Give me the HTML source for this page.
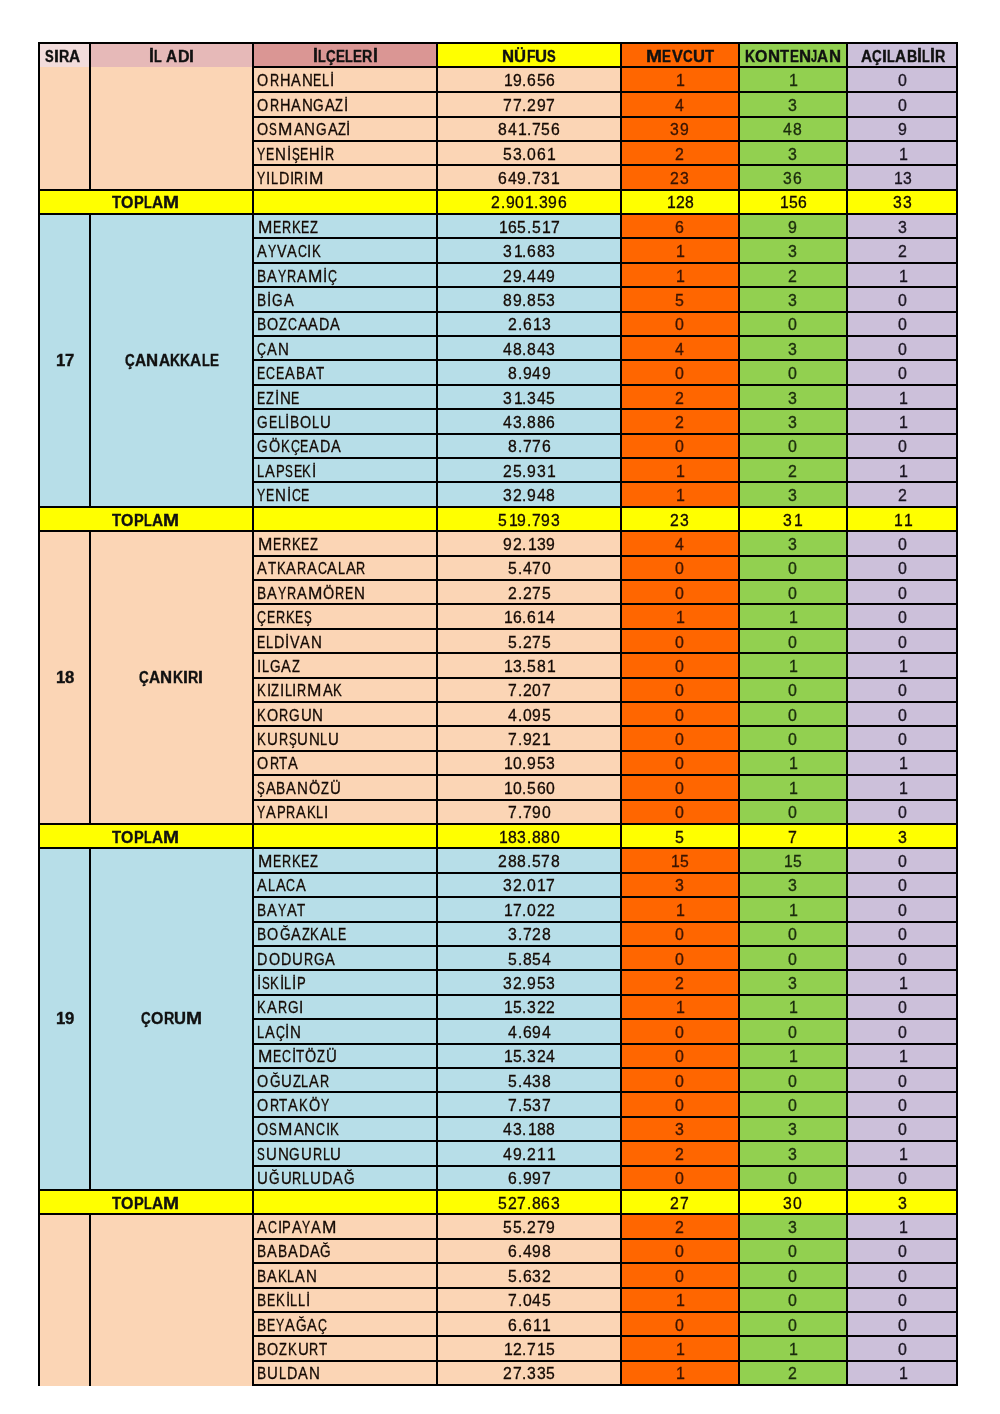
<!DOCTYPE html>
<html><head><meta charset="utf-8"><style>html,body{margin:0;padding:0;background:#fff}
body{width:1000px;height:1414px;position:relative;overflow:hidden}
i{position:absolute;display:block}
#ln i{background:#000}
p{position:absolute;margin:0;height:0;width:0;line-height:0;white-space:nowrap;will-change:transform;font-family:"Liberation Sans",sans-serif;font-size:16px;-webkit-text-stroke:0.3px currentColor}
p.b{font-weight:bold;font-size:16px;-webkit-text-stroke:0.35px currentColor}
s{position:absolute;left:0;top:0;text-decoration:none;transform-origin:0 0}
</style></head>
<body><div id="bg">
<i style="left:39px;top:43px;width:51px;height:24px;background:#F2DCDB"></i>
<i style="left:90px;top:43px;width:163px;height:24px;background:#E6B9B8"></i>
<i style="left:253px;top:43px;width:184px;height:24px;background:#DA9694"></i>
<i style="left:437px;top:43px;width:184px;height:24px;background:#FFFF00"></i>
<i style="left:621px;top:43px;width:118px;height:24px;background:#FF6600"></i>
<i style="left:739px;top:43px;width:108px;height:24px;background:#92D050"></i>
<i style="left:847px;top:43px;width:110px;height:24px;background:#CCC0DA"></i>
<i style="left:253px;top:67px;width:368px;height:25px;background:#FBD5B5"></i>
<i style="left:621px;top:67px;width:118px;height:25px;background:#FF6600"></i>
<i style="left:739px;top:67px;width:108px;height:25px;background:#92D050"></i>
<i style="left:847px;top:67px;width:110px;height:25px;background:#CCC0DA"></i>
<i style="left:253px;top:92px;width:368px;height:25px;background:#FBD5B5"></i>
<i style="left:621px;top:92px;width:118px;height:25px;background:#FF6600"></i>
<i style="left:739px;top:92px;width:108px;height:25px;background:#92D050"></i>
<i style="left:847px;top:92px;width:110px;height:25px;background:#CCC0DA"></i>
<i style="left:253px;top:117px;width:368px;height:24px;background:#FBD5B5"></i>
<i style="left:621px;top:117px;width:118px;height:24px;background:#FF6600"></i>
<i style="left:739px;top:117px;width:108px;height:24px;background:#92D050"></i>
<i style="left:847px;top:117px;width:110px;height:24px;background:#CCC0DA"></i>
<i style="left:253px;top:141px;width:368px;height:24px;background:#FBD5B5"></i>
<i style="left:621px;top:141px;width:118px;height:24px;background:#FF6600"></i>
<i style="left:739px;top:141px;width:108px;height:24px;background:#92D050"></i>
<i style="left:847px;top:141px;width:110px;height:24px;background:#CCC0DA"></i>
<i style="left:253px;top:165px;width:368px;height:25px;background:#FBD5B5"></i>
<i style="left:621px;top:165px;width:118px;height:25px;background:#FF6600"></i>
<i style="left:739px;top:165px;width:108px;height:25px;background:#92D050"></i>
<i style="left:847px;top:165px;width:110px;height:25px;background:#CCC0DA"></i>
<i style="left:39px;top:67px;width:214px;height:123px;background:#FBD5B5"></i>
<i style="left:39px;top:190px;width:918px;height:24px;background:#FFFF00"></i>
<i style="left:253px;top:214px;width:368px;height:24px;background:#B7DEE8"></i>
<i style="left:621px;top:214px;width:118px;height:24px;background:#FF6600"></i>
<i style="left:739px;top:214px;width:108px;height:24px;background:#92D050"></i>
<i style="left:847px;top:214px;width:110px;height:24px;background:#CCC0DA"></i>
<i style="left:253px;top:238px;width:368px;height:25px;background:#B7DEE8"></i>
<i style="left:621px;top:238px;width:118px;height:25px;background:#FF6600"></i>
<i style="left:739px;top:238px;width:108px;height:25px;background:#92D050"></i>
<i style="left:847px;top:238px;width:110px;height:25px;background:#CCC0DA"></i>
<i style="left:253px;top:263px;width:368px;height:24px;background:#B7DEE8"></i>
<i style="left:621px;top:263px;width:118px;height:24px;background:#FF6600"></i>
<i style="left:739px;top:263px;width:108px;height:24px;background:#92D050"></i>
<i style="left:847px;top:263px;width:110px;height:24px;background:#CCC0DA"></i>
<i style="left:253px;top:287px;width:368px;height:25px;background:#B7DEE8"></i>
<i style="left:621px;top:287px;width:118px;height:25px;background:#FF6600"></i>
<i style="left:739px;top:287px;width:108px;height:25px;background:#92D050"></i>
<i style="left:847px;top:287px;width:110px;height:25px;background:#CCC0DA"></i>
<i style="left:253px;top:312px;width:368px;height:24px;background:#B7DEE8"></i>
<i style="left:621px;top:312px;width:118px;height:24px;background:#FF6600"></i>
<i style="left:739px;top:312px;width:108px;height:24px;background:#92D050"></i>
<i style="left:847px;top:312px;width:110px;height:24px;background:#CCC0DA"></i>
<i style="left:253px;top:336px;width:368px;height:24px;background:#B7DEE8"></i>
<i style="left:621px;top:336px;width:118px;height:24px;background:#FF6600"></i>
<i style="left:739px;top:336px;width:108px;height:24px;background:#92D050"></i>
<i style="left:847px;top:336px;width:110px;height:24px;background:#CCC0DA"></i>
<i style="left:253px;top:360px;width:368px;height:25px;background:#B7DEE8"></i>
<i style="left:621px;top:360px;width:118px;height:25px;background:#FF6600"></i>
<i style="left:739px;top:360px;width:108px;height:25px;background:#92D050"></i>
<i style="left:847px;top:360px;width:110px;height:25px;background:#CCC0DA"></i>
<i style="left:253px;top:385px;width:368px;height:24px;background:#B7DEE8"></i>
<i style="left:621px;top:385px;width:118px;height:24px;background:#FF6600"></i>
<i style="left:739px;top:385px;width:108px;height:24px;background:#92D050"></i>
<i style="left:847px;top:385px;width:110px;height:24px;background:#CCC0DA"></i>
<i style="left:253px;top:409px;width:368px;height:25px;background:#B7DEE8"></i>
<i style="left:621px;top:409px;width:118px;height:25px;background:#FF6600"></i>
<i style="left:739px;top:409px;width:108px;height:25px;background:#92D050"></i>
<i style="left:847px;top:409px;width:110px;height:25px;background:#CCC0DA"></i>
<i style="left:253px;top:434px;width:368px;height:24px;background:#B7DEE8"></i>
<i style="left:621px;top:434px;width:118px;height:24px;background:#FF6600"></i>
<i style="left:739px;top:434px;width:108px;height:24px;background:#92D050"></i>
<i style="left:847px;top:434px;width:110px;height:24px;background:#CCC0DA"></i>
<i style="left:253px;top:458px;width:368px;height:24px;background:#B7DEE8"></i>
<i style="left:621px;top:458px;width:118px;height:24px;background:#FF6600"></i>
<i style="left:739px;top:458px;width:108px;height:24px;background:#92D050"></i>
<i style="left:847px;top:458px;width:110px;height:24px;background:#CCC0DA"></i>
<i style="left:253px;top:482px;width:368px;height:25px;background:#B7DEE8"></i>
<i style="left:621px;top:482px;width:118px;height:25px;background:#FF6600"></i>
<i style="left:739px;top:482px;width:108px;height:25px;background:#92D050"></i>
<i style="left:847px;top:482px;width:110px;height:25px;background:#CCC0DA"></i>
<i style="left:39px;top:214px;width:214px;height:293px;background:#B7DEE8"></i>
<i style="left:39px;top:507px;width:918px;height:24px;background:#FFFF00"></i>
<i style="left:253px;top:531px;width:368px;height:25px;background:#FBD5B5"></i>
<i style="left:621px;top:531px;width:118px;height:25px;background:#FF6600"></i>
<i style="left:739px;top:531px;width:108px;height:25px;background:#92D050"></i>
<i style="left:847px;top:531px;width:110px;height:25px;background:#CCC0DA"></i>
<i style="left:253px;top:556px;width:368px;height:24px;background:#FBD5B5"></i>
<i style="left:621px;top:556px;width:118px;height:24px;background:#FF6600"></i>
<i style="left:739px;top:556px;width:108px;height:24px;background:#92D050"></i>
<i style="left:847px;top:556px;width:110px;height:24px;background:#CCC0DA"></i>
<i style="left:253px;top:580px;width:368px;height:24px;background:#FBD5B5"></i>
<i style="left:621px;top:580px;width:118px;height:24px;background:#FF6600"></i>
<i style="left:739px;top:580px;width:108px;height:24px;background:#92D050"></i>
<i style="left:847px;top:580px;width:110px;height:24px;background:#CCC0DA"></i>
<i style="left:253px;top:604px;width:368px;height:25px;background:#FBD5B5"></i>
<i style="left:621px;top:604px;width:118px;height:25px;background:#FF6600"></i>
<i style="left:739px;top:604px;width:108px;height:25px;background:#92D050"></i>
<i style="left:847px;top:604px;width:110px;height:25px;background:#CCC0DA"></i>
<i style="left:253px;top:629px;width:368px;height:24px;background:#FBD5B5"></i>
<i style="left:621px;top:629px;width:118px;height:24px;background:#FF6600"></i>
<i style="left:739px;top:629px;width:108px;height:24px;background:#92D050"></i>
<i style="left:847px;top:629px;width:110px;height:24px;background:#CCC0DA"></i>
<i style="left:253px;top:653px;width:368px;height:25px;background:#FBD5B5"></i>
<i style="left:621px;top:653px;width:118px;height:25px;background:#FF6600"></i>
<i style="left:739px;top:653px;width:108px;height:25px;background:#92D050"></i>
<i style="left:847px;top:653px;width:110px;height:25px;background:#CCC0DA"></i>
<i style="left:253px;top:678px;width:368px;height:24px;background:#FBD5B5"></i>
<i style="left:621px;top:678px;width:118px;height:24px;background:#FF6600"></i>
<i style="left:739px;top:678px;width:108px;height:24px;background:#92D050"></i>
<i style="left:847px;top:678px;width:110px;height:24px;background:#CCC0DA"></i>
<i style="left:253px;top:702px;width:368px;height:24px;background:#FBD5B5"></i>
<i style="left:621px;top:702px;width:118px;height:24px;background:#FF6600"></i>
<i style="left:739px;top:702px;width:108px;height:24px;background:#92D050"></i>
<i style="left:847px;top:702px;width:110px;height:24px;background:#CCC0DA"></i>
<i style="left:253px;top:726px;width:368px;height:25px;background:#FBD5B5"></i>
<i style="left:621px;top:726px;width:118px;height:25px;background:#FF6600"></i>
<i style="left:739px;top:726px;width:108px;height:25px;background:#92D050"></i>
<i style="left:847px;top:726px;width:110px;height:25px;background:#CCC0DA"></i>
<i style="left:253px;top:751px;width:368px;height:24px;background:#FBD5B5"></i>
<i style="left:621px;top:751px;width:118px;height:24px;background:#FF6600"></i>
<i style="left:739px;top:751px;width:108px;height:24px;background:#92D050"></i>
<i style="left:847px;top:751px;width:110px;height:24px;background:#CCC0DA"></i>
<i style="left:253px;top:775px;width:368px;height:25px;background:#FBD5B5"></i>
<i style="left:621px;top:775px;width:118px;height:25px;background:#FF6600"></i>
<i style="left:739px;top:775px;width:108px;height:25px;background:#92D050"></i>
<i style="left:847px;top:775px;width:110px;height:25px;background:#CCC0DA"></i>
<i style="left:253px;top:800px;width:368px;height:24px;background:#FBD5B5"></i>
<i style="left:621px;top:800px;width:118px;height:24px;background:#FF6600"></i>
<i style="left:739px;top:800px;width:108px;height:24px;background:#92D050"></i>
<i style="left:847px;top:800px;width:110px;height:24px;background:#CCC0DA"></i>
<i style="left:39px;top:531px;width:214px;height:293px;background:#FBD5B5"></i>
<i style="left:39px;top:824px;width:918px;height:24px;background:#FFFF00"></i>
<i style="left:253px;top:848px;width:368px;height:25px;background:#B7DEE8"></i>
<i style="left:621px;top:848px;width:118px;height:25px;background:#FF6600"></i>
<i style="left:739px;top:848px;width:108px;height:25px;background:#92D050"></i>
<i style="left:847px;top:848px;width:110px;height:25px;background:#CCC0DA"></i>
<i style="left:253px;top:873px;width:368px;height:24px;background:#B7DEE8"></i>
<i style="left:621px;top:873px;width:118px;height:24px;background:#FF6600"></i>
<i style="left:739px;top:873px;width:108px;height:24px;background:#92D050"></i>
<i style="left:847px;top:873px;width:110px;height:24px;background:#CCC0DA"></i>
<i style="left:253px;top:897px;width:368px;height:25px;background:#B7DEE8"></i>
<i style="left:621px;top:897px;width:118px;height:25px;background:#FF6600"></i>
<i style="left:739px;top:897px;width:108px;height:25px;background:#92D050"></i>
<i style="left:847px;top:897px;width:110px;height:25px;background:#CCC0DA"></i>
<i style="left:253px;top:922px;width:368px;height:24px;background:#B7DEE8"></i>
<i style="left:621px;top:922px;width:118px;height:24px;background:#FF6600"></i>
<i style="left:739px;top:922px;width:108px;height:24px;background:#92D050"></i>
<i style="left:847px;top:922px;width:110px;height:24px;background:#CCC0DA"></i>
<i style="left:253px;top:946px;width:368px;height:24px;background:#B7DEE8"></i>
<i style="left:621px;top:946px;width:118px;height:24px;background:#FF6600"></i>
<i style="left:739px;top:946px;width:108px;height:24px;background:#92D050"></i>
<i style="left:847px;top:946px;width:110px;height:24px;background:#CCC0DA"></i>
<i style="left:253px;top:970px;width:368px;height:25px;background:#B7DEE8"></i>
<i style="left:621px;top:970px;width:118px;height:25px;background:#FF6600"></i>
<i style="left:739px;top:970px;width:108px;height:25px;background:#92D050"></i>
<i style="left:847px;top:970px;width:110px;height:25px;background:#CCC0DA"></i>
<i style="left:253px;top:995px;width:368px;height:24px;background:#B7DEE8"></i>
<i style="left:621px;top:995px;width:118px;height:24px;background:#FF6600"></i>
<i style="left:739px;top:995px;width:108px;height:24px;background:#92D050"></i>
<i style="left:847px;top:995px;width:110px;height:24px;background:#CCC0DA"></i>
<i style="left:253px;top:1019px;width:368px;height:25px;background:#B7DEE8"></i>
<i style="left:621px;top:1019px;width:118px;height:25px;background:#FF6600"></i>
<i style="left:739px;top:1019px;width:108px;height:25px;background:#92D050"></i>
<i style="left:847px;top:1019px;width:110px;height:25px;background:#CCC0DA"></i>
<i style="left:253px;top:1044px;width:368px;height:24px;background:#B7DEE8"></i>
<i style="left:621px;top:1044px;width:118px;height:24px;background:#FF6600"></i>
<i style="left:739px;top:1044px;width:108px;height:24px;background:#92D050"></i>
<i style="left:847px;top:1044px;width:110px;height:24px;background:#CCC0DA"></i>
<i style="left:253px;top:1068px;width:368px;height:24px;background:#B7DEE8"></i>
<i style="left:621px;top:1068px;width:118px;height:24px;background:#FF6600"></i>
<i style="left:739px;top:1068px;width:108px;height:24px;background:#92D050"></i>
<i style="left:847px;top:1068px;width:110px;height:24px;background:#CCC0DA"></i>
<i style="left:253px;top:1092px;width:368px;height:25px;background:#B7DEE8"></i>
<i style="left:621px;top:1092px;width:118px;height:25px;background:#FF6600"></i>
<i style="left:739px;top:1092px;width:108px;height:25px;background:#92D050"></i>
<i style="left:847px;top:1092px;width:110px;height:25px;background:#CCC0DA"></i>
<i style="left:253px;top:1117px;width:368px;height:24px;background:#B7DEE8"></i>
<i style="left:621px;top:1117px;width:118px;height:24px;background:#FF6600"></i>
<i style="left:739px;top:1117px;width:108px;height:24px;background:#92D050"></i>
<i style="left:847px;top:1117px;width:110px;height:24px;background:#CCC0DA"></i>
<i style="left:253px;top:1141px;width:368px;height:25px;background:#B7DEE8"></i>
<i style="left:621px;top:1141px;width:118px;height:25px;background:#FF6600"></i>
<i style="left:739px;top:1141px;width:108px;height:25px;background:#92D050"></i>
<i style="left:847px;top:1141px;width:110px;height:25px;background:#CCC0DA"></i>
<i style="left:253px;top:1166px;width:368px;height:24px;background:#B7DEE8"></i>
<i style="left:621px;top:1166px;width:118px;height:24px;background:#FF6600"></i>
<i style="left:739px;top:1166px;width:108px;height:24px;background:#92D050"></i>
<i style="left:847px;top:1166px;width:110px;height:24px;background:#CCC0DA"></i>
<i style="left:39px;top:848px;width:214px;height:342px;background:#B7DEE8"></i>
<i style="left:39px;top:1190px;width:918px;height:24px;background:#FFFF00"></i>
<i style="left:253px;top:1214px;width:368px;height:25px;background:#FBD5B5"></i>
<i style="left:621px;top:1214px;width:118px;height:25px;background:#FF6600"></i>
<i style="left:739px;top:1214px;width:108px;height:25px;background:#92D050"></i>
<i style="left:847px;top:1214px;width:110px;height:25px;background:#CCC0DA"></i>
<i style="left:253px;top:1239px;width:368px;height:24px;background:#FBD5B5"></i>
<i style="left:621px;top:1239px;width:118px;height:24px;background:#FF6600"></i>
<i style="left:739px;top:1239px;width:108px;height:24px;background:#92D050"></i>
<i style="left:847px;top:1239px;width:110px;height:24px;background:#CCC0DA"></i>
<i style="left:253px;top:1263px;width:368px;height:25px;background:#FBD5B5"></i>
<i style="left:621px;top:1263px;width:118px;height:25px;background:#FF6600"></i>
<i style="left:739px;top:1263px;width:108px;height:25px;background:#92D050"></i>
<i style="left:847px;top:1263px;width:110px;height:25px;background:#CCC0DA"></i>
<i style="left:253px;top:1288px;width:368px;height:24px;background:#FBD5B5"></i>
<i style="left:621px;top:1288px;width:118px;height:24px;background:#FF6600"></i>
<i style="left:739px;top:1288px;width:108px;height:24px;background:#92D050"></i>
<i style="left:847px;top:1288px;width:110px;height:24px;background:#CCC0DA"></i>
<i style="left:253px;top:1312px;width:368px;height:24px;background:#FBD5B5"></i>
<i style="left:621px;top:1312px;width:118px;height:24px;background:#FF6600"></i>
<i style="left:739px;top:1312px;width:108px;height:24px;background:#92D050"></i>
<i style="left:847px;top:1312px;width:110px;height:24px;background:#CCC0DA"></i>
<i style="left:253px;top:1336px;width:368px;height:25px;background:#FBD5B5"></i>
<i style="left:621px;top:1336px;width:118px;height:25px;background:#FF6600"></i>
<i style="left:739px;top:1336px;width:108px;height:25px;background:#92D050"></i>
<i style="left:847px;top:1336px;width:110px;height:25px;background:#CCC0DA"></i>
<i style="left:253px;top:1361px;width:368px;height:24px;background:#FBD5B5"></i>
<i style="left:621px;top:1361px;width:118px;height:24px;background:#FF6600"></i>
<i style="left:739px;top:1361px;width:108px;height:24px;background:#92D050"></i>
<i style="left:847px;top:1361px;width:110px;height:24px;background:#CCC0DA"></i>
<i style="left:39px;top:1214px;width:214px;height:172px;background:#FBD5B5"></i>
</div><div id="ln">
<i style="left:38px;top:42px;width:920px;height:2px"></i>
<i style="left:252px;top:66px;width:706px;height:2px"></i>
<i style="left:252px;top:91px;width:706px;height:2px"></i>
<i style="left:252px;top:116px;width:706px;height:2px"></i>
<i style="left:252px;top:140px;width:706px;height:2px"></i>
<i style="left:252px;top:164px;width:706px;height:2px"></i>
<i style="left:252px;top:189px;width:706px;height:2px"></i>
<i style="left:252px;top:213px;width:706px;height:2px"></i>
<i style="left:252px;top:237px;width:706px;height:2px"></i>
<i style="left:252px;top:262px;width:706px;height:2px"></i>
<i style="left:252px;top:286px;width:706px;height:2px"></i>
<i style="left:252px;top:311px;width:706px;height:2px"></i>
<i style="left:252px;top:335px;width:706px;height:2px"></i>
<i style="left:252px;top:359px;width:706px;height:2px"></i>
<i style="left:252px;top:384px;width:706px;height:2px"></i>
<i style="left:252px;top:408px;width:706px;height:2px"></i>
<i style="left:252px;top:433px;width:706px;height:2px"></i>
<i style="left:252px;top:457px;width:706px;height:2px"></i>
<i style="left:252px;top:481px;width:706px;height:2px"></i>
<i style="left:252px;top:506px;width:706px;height:2px"></i>
<i style="left:252px;top:530px;width:706px;height:2px"></i>
<i style="left:252px;top:555px;width:706px;height:2px"></i>
<i style="left:252px;top:579px;width:706px;height:2px"></i>
<i style="left:252px;top:603px;width:706px;height:2px"></i>
<i style="left:252px;top:628px;width:706px;height:2px"></i>
<i style="left:252px;top:652px;width:706px;height:2px"></i>
<i style="left:252px;top:677px;width:706px;height:2px"></i>
<i style="left:252px;top:701px;width:706px;height:2px"></i>
<i style="left:252px;top:725px;width:706px;height:2px"></i>
<i style="left:252px;top:750px;width:706px;height:2px"></i>
<i style="left:252px;top:774px;width:706px;height:2px"></i>
<i style="left:252px;top:799px;width:706px;height:2px"></i>
<i style="left:252px;top:823px;width:706px;height:2px"></i>
<i style="left:252px;top:847px;width:706px;height:2px"></i>
<i style="left:252px;top:872px;width:706px;height:2px"></i>
<i style="left:252px;top:896px;width:706px;height:2px"></i>
<i style="left:252px;top:921px;width:706px;height:2px"></i>
<i style="left:252px;top:945px;width:706px;height:2px"></i>
<i style="left:252px;top:969px;width:706px;height:2px"></i>
<i style="left:252px;top:994px;width:706px;height:2px"></i>
<i style="left:252px;top:1018px;width:706px;height:2px"></i>
<i style="left:252px;top:1043px;width:706px;height:2px"></i>
<i style="left:252px;top:1067px;width:706px;height:2px"></i>
<i style="left:252px;top:1091px;width:706px;height:2px"></i>
<i style="left:252px;top:1116px;width:706px;height:2px"></i>
<i style="left:252px;top:1140px;width:706px;height:2px"></i>
<i style="left:252px;top:1165px;width:706px;height:2px"></i>
<i style="left:252px;top:1189px;width:706px;height:2px"></i>
<i style="left:252px;top:1213px;width:706px;height:2px"></i>
<i style="left:252px;top:1238px;width:706px;height:2px"></i>
<i style="left:252px;top:1262px;width:706px;height:2px"></i>
<i style="left:252px;top:1287px;width:706px;height:2px"></i>
<i style="left:252px;top:1311px;width:706px;height:2px"></i>
<i style="left:252px;top:1335px;width:706px;height:2px"></i>
<i style="left:252px;top:1360px;width:706px;height:2px"></i>
<i style="left:252px;top:1384px;width:706px;height:2px"></i>
<i style="left:38px;top:189px;width:920px;height:2px"></i>
<i style="left:38px;top:213px;width:920px;height:2px"></i>
<i style="left:38px;top:506px;width:920px;height:2px"></i>
<i style="left:38px;top:530px;width:920px;height:2px"></i>
<i style="left:38px;top:823px;width:920px;height:2px"></i>
<i style="left:38px;top:847px;width:920px;height:2px"></i>
<i style="left:38px;top:1189px;width:920px;height:2px"></i>
<i style="left:38px;top:1213px;width:920px;height:2px"></i>
<i style="left:38px;top:42px;width:2px;height:1344px"></i>
<i style="left:252px;top:42px;width:2px;height:1344px"></i>
<i style="left:436px;top:42px;width:2px;height:1344px"></i>
<i style="left:620px;top:42px;width:2px;height:1344px"></i>
<i style="left:738px;top:42px;width:2px;height:1344px"></i>
<i style="left:846px;top:42px;width:2px;height:1344px"></i>
<i style="left:956px;top:42px;width:2px;height:1344px"></i>
<i style="left:89px;top:42px;width:2px;height:148px"></i>
<i style="left:89px;top:214px;width:2px;height:293px"></i>
<i style="left:89px;top:531px;width:2px;height:293px"></i>
<i style="left:89px;top:848px;width:2px;height:342px"></i>
<i style="left:89px;top:1214px;width:2px;height:172px"></i>
</div><div id="tx">
<p class="t" style="left:256.50px;top:81px;color:#140a04"><s style="left:0.48px;transform:scaleX(0.896)">O</s><s style="left:12.51px;transform:scaleX(0.791)">R</s><s style="left:22.51px;transform:scaleX(0.908)">H</s><s style="left:33.88px;transform:scaleX(0.913)">A</s><s style="left:44.52px;transform:scaleX(0.941)">N</s><s style="left:56.23px;transform:scaleX(0.770)">E</s><s style="left:65.11px;transform:scaleX(0.795)">L</s><s style="left:72.67px;transform:scaleX(0.954)">İ</s></p>
<p class="t" style="left:502.90px;top:81px;color:#140a04"><s style="left:0.98px;transform:scaleX(0.984)">1</s><s style="left:9.90px;transform:scaleX(0.984)">9</s><s style="left:19.22px;transform:scaleX(0.954)">.</s><s style="left:24.02px;transform:scaleX(0.984)">6</s><s style="left:33.54px;transform:scaleX(0.984)">5</s><s style="left:43.06px;transform:scaleX(0.984)">6</s></p>
<p class="t" style="left:675.24px;top:81px;color:#3a1400"><s style="left:0.98px;transform:scaleX(0.984)">1</s></p>
<p class="t" style="left:788.24px;top:81px;color:#1a2a0c"><s style="left:0.98px;transform:scaleX(0.984)">1</s></p>
<p class="t" style="left:898.24px;top:81px;color:#1a1420"><s style="left:0.38px;transform:scaleX(0.984)">0</s></p>
<p class="t" style="left:256.50px;top:106px;color:#140a04"><s style="left:0.48px;transform:scaleX(0.896)">O</s><s style="left:12.51px;transform:scaleX(0.791)">R</s><s style="left:22.51px;transform:scaleX(0.908)">H</s><s style="left:33.88px;transform:scaleX(0.913)">A</s><s style="left:44.52px;transform:scaleX(0.941)">N</s><s style="left:56.33px;transform:scaleX(0.854)">G</s><s style="left:67.84px;transform:scaleX(0.913)">A</s><s style="left:78.36px;transform:scaleX(0.806)">Z</s><s style="left:86.76px;transform:scaleX(0.954)">İ</s></p>
<p class="t" style="left:502.90px;top:106px;color:#140a04"><s style="left:0.38px;transform:scaleX(0.984)">7</s><s style="left:9.90px;transform:scaleX(0.984)">7</s><s style="left:19.22px;transform:scaleX(0.954)">.</s><s style="left:24.02px;transform:scaleX(0.984)">2</s><s style="left:33.54px;transform:scaleX(0.984)">9</s><s style="left:43.06px;transform:scaleX(0.984)">7</s></p>
<p class="t" style="left:675.24px;top:106px;color:#3a1400"><s style="left:0.38px;transform:scaleX(0.984)">4</s></p>
<p class="t" style="left:788.24px;top:106px;color:#1a2a0c"><s style="left:0.38px;transform:scaleX(0.984)">3</s></p>
<p class="t" style="left:898.24px;top:106px;color:#1a1420"><s style="left:0.38px;transform:scaleX(0.984)">0</s></p>
<p class="t" style="left:256.50px;top:130px;color:#140a04"><s style="left:0.48px;transform:scaleX(0.896)">O</s><s style="left:12.45px;transform:scaleX(0.724)">S</s><s style="left:21.14px;transform:scaleX(1.080)">M</s><s style="left:36.58px;transform:scaleX(0.913)">A</s><s style="left:47.23px;transform:scaleX(0.941)">N</s><s style="left:59.04px;transform:scaleX(0.854)">G</s><s style="left:70.55px;transform:scaleX(0.913)">A</s><s style="left:81.06px;transform:scaleX(0.806)">Z</s><s style="left:89.47px;transform:scaleX(0.954)">İ</s></p>
<p class="t" style="left:498.15px;top:130px;color:#140a04"><s style="left:0.38px;transform:scaleX(0.984)">8</s><s style="left:9.90px;transform:scaleX(0.984)">4</s><s style="left:20.01px;transform:scaleX(0.984)">1</s><s style="left:28.73px;transform:scaleX(0.954)">.</s><s style="left:33.54px;transform:scaleX(0.984)">7</s><s style="left:43.06px;transform:scaleX(0.984)">5</s><s style="left:52.57px;transform:scaleX(0.984)">6</s></p>
<p class="t" style="left:670.48px;top:130px;color:#3a1400"><s style="left:0.38px;transform:scaleX(0.984)">3</s><s style="left:9.90px;transform:scaleX(0.984)">9</s></p>
<p class="t" style="left:783.48px;top:130px;color:#1a2a0c"><s style="left:0.38px;transform:scaleX(0.984)">4</s><s style="left:9.90px;transform:scaleX(0.984)">8</s></p>
<p class="t" style="left:898.24px;top:130px;color:#1a1420"><s style="left:0.38px;transform:scaleX(0.984)">9</s></p>
<p class="t" style="left:256.50px;top:155px;color:#140a04"><s style="left:0.36px;transform:scaleX(0.768)">Y</s><s style="left:9.27px;transform:scaleX(0.770)">E</s><s style="left:18.32px;transform:scaleX(0.941)">N</s><s style="left:29.85px;transform:scaleX(0.954)">İ</s><s style="left:34.61px;transform:scaleX(0.724)">Ş</s><s style="left:43.03px;transform:scaleX(0.770)">E</s><s style="left:52.06px;transform:scaleX(0.908)">H</s><s style="left:63.19px;transform:scaleX(0.954)">İ</s><s style="left:68.02px;transform:scaleX(0.791)">R</s></p>
<p class="t" style="left:502.90px;top:155px;color:#140a04"><s style="left:0.38px;transform:scaleX(0.984)">5</s><s style="left:9.90px;transform:scaleX(0.984)">3</s><s style="left:19.22px;transform:scaleX(0.954)">.</s><s style="left:24.02px;transform:scaleX(0.984)">0</s><s style="left:33.54px;transform:scaleX(0.984)">6</s><s style="left:43.66px;transform:scaleX(0.984)">1</s></p>
<p class="t" style="left:675.24px;top:155px;color:#3a1400"><s style="left:0.38px;transform:scaleX(0.984)">2</s></p>
<p class="t" style="left:788.24px;top:155px;color:#1a2a0c"><s style="left:0.38px;transform:scaleX(0.984)">3</s></p>
<p class="t" style="left:898.24px;top:155px;color:#1a1420"><s style="left:0.98px;transform:scaleX(0.984)">1</s></p>
<p class="t" style="left:256.50px;top:179px;color:#140a04"><s style="left:0.36px;transform:scaleX(0.768)">Y</s><s style="left:9.10px;transform:scaleX(0.954)">I</s><s style="left:13.83px;transform:scaleX(0.795)">L</s><s style="left:21.66px;transform:scaleX(0.896)">D</s><s style="left:32.65px;transform:scaleX(0.954)">I</s><s style="left:37.47px;transform:scaleX(0.791)">R</s><s style="left:47.20px;transform:scaleX(0.954)">I</s><s style="left:52.25px;transform:scaleX(1.080)">M</s></p>
<p class="t" style="left:498.15px;top:179px;color:#140a04"><s style="left:0.38px;transform:scaleX(0.984)">6</s><s style="left:9.90px;transform:scaleX(0.984)">4</s><s style="left:19.41px;transform:scaleX(0.984)">9</s><s style="left:28.73px;transform:scaleX(0.954)">.</s><s style="left:33.54px;transform:scaleX(0.984)">7</s><s style="left:43.06px;transform:scaleX(0.984)">3</s><s style="left:53.17px;transform:scaleX(0.984)">1</s></p>
<p class="t" style="left:670.48px;top:179px;color:#3a1400"><s style="left:0.38px;transform:scaleX(0.984)">2</s><s style="left:9.90px;transform:scaleX(0.984)">3</s></p>
<p class="t" style="left:783.48px;top:179px;color:#1a2a0c"><s style="left:0.38px;transform:scaleX(0.984)">3</s><s style="left:9.90px;transform:scaleX(0.984)">6</s></p>
<p class="t" style="left:893.48px;top:179px;color:#1a1420"><s style="left:0.98px;transform:scaleX(0.984)">1</s><s style="left:9.90px;transform:scaleX(0.984)">3</s></p>
<p class="b" style="left:112.28px;top:203px;color:#111"><s style="left:0.09px;transform:scaleX(0.928)">T</s><s style="left:9.38px;transform:scaleX(0.995)">O</s><s style="left:22.00px;transform:scaleX(0.914)">P</s><s style="left:31.93px;transform:scaleX(0.793)">L</s><s style="left:39.87px;transform:scaleX(0.961)">A</s><s style="left:51.25px;transform:scaleX(1.202)">M</s></p>
<p class="t" style="left:491.08px;top:203px;color:#140a04"><s style="left:0.38px;transform:scaleX(0.984)">2</s><s style="left:9.70px;transform:scaleX(0.954)">.</s><s style="left:14.51px;transform:scaleX(0.984)">9</s><s style="left:24.02px;transform:scaleX(0.984)">0</s><s style="left:34.14px;transform:scaleX(0.984)">1</s><s style="left:42.86px;transform:scaleX(0.954)">.</s><s style="left:47.67px;transform:scaleX(0.984)">3</s><s style="left:57.18px;transform:scaleX(0.984)">9</s><s style="left:66.70px;transform:scaleX(0.984)">6</s></p>
<p class="t" style="left:665.73px;top:203px;color:#140a04"><s style="left:0.98px;transform:scaleX(0.984)">1</s><s style="left:9.90px;transform:scaleX(0.984)">2</s><s style="left:19.41px;transform:scaleX(0.984)">8</s></p>
<p class="t" style="left:778.73px;top:203px;color:#140a04"><s style="left:0.98px;transform:scaleX(0.984)">1</s><s style="left:9.90px;transform:scaleX(0.984)">5</s><s style="left:19.41px;transform:scaleX(0.984)">6</s></p>
<p class="t" style="left:893.48px;top:203px;color:#140a04"><s style="left:0.38px;transform:scaleX(0.984)">3</s><s style="left:9.90px;transform:scaleX(0.984)">3</s></p>
<p class="t" style="left:256.50px;top:228px;color:#140a04"><s style="left:0.63px;transform:scaleX(1.080)">M</s><s style="left:16.00px;transform:scaleX(0.770)">E</s><s style="left:24.97px;transform:scaleX(0.791)">R</s><s style="left:34.89px;transform:scaleX(0.820)">K</s><s style="left:44.39px;transform:scaleX(0.770)">E</s><s style="left:53.30px;transform:scaleX(0.806)">Z</s></p>
<p class="t" style="left:498.15px;top:228px;color:#140a04"><s style="left:0.98px;transform:scaleX(0.984)">1</s><s style="left:9.90px;transform:scaleX(0.984)">6</s><s style="left:19.41px;transform:scaleX(0.984)">5</s><s style="left:28.73px;transform:scaleX(0.954)">.</s><s style="left:33.54px;transform:scaleX(0.984)">5</s><s style="left:43.66px;transform:scaleX(0.984)">1</s><s style="left:52.57px;transform:scaleX(0.984)">7</s></p>
<p class="t" style="left:675.24px;top:228px;color:#3a1400"><s style="left:0.38px;transform:scaleX(0.984)">6</s></p>
<p class="t" style="left:788.24px;top:228px;color:#1a2a0c"><s style="left:0.38px;transform:scaleX(0.984)">9</s></p>
<p class="t" style="left:898.24px;top:228px;color:#1a1420"><s style="left:0.38px;transform:scaleX(0.984)">3</s></p>
<p class="t" style="left:256.50px;top:252px;color:#140a04"><s style="left:0.42px;transform:scaleX(0.913)">A</s><s style="left:10.95px;transform:scaleX(0.768)">Y</s><s style="left:19.92px;transform:scaleX(0.894)">V</s><s style="left:30.31px;transform:scaleX(0.913)">A</s><s style="left:40.87px;transform:scaleX(0.777)">C</s><s style="left:50.42px;transform:scaleX(0.954)">I</s><s style="left:55.23px;transform:scaleX(0.820)">K</s></p>
<p class="t" style="left:502.90px;top:252px;color:#140a04"><s style="left:0.38px;transform:scaleX(0.984)">3</s><s style="left:10.50px;transform:scaleX(0.984)">1</s><s style="left:19.22px;transform:scaleX(0.954)">.</s><s style="left:24.02px;transform:scaleX(0.984)">6</s><s style="left:33.54px;transform:scaleX(0.984)">8</s><s style="left:43.06px;transform:scaleX(0.984)">3</s></p>
<p class="t" style="left:675.24px;top:252px;color:#3a1400"><s style="left:0.98px;transform:scaleX(0.984)">1</s></p>
<p class="t" style="left:788.24px;top:252px;color:#1a2a0c"><s style="left:0.38px;transform:scaleX(0.984)">3</s></p>
<p class="t" style="left:898.24px;top:252px;color:#1a1420"><s style="left:0.38px;transform:scaleX(0.984)">2</s></p>
<p class="t" style="left:256.50px;top:277px;color:#140a04"><s style="left:0.40px;transform:scaleX(0.858)">B</s><s style="left:10.38px;transform:scaleX(0.913)">A</s><s style="left:20.91px;transform:scaleX(0.768)">Y</s><s style="left:29.86px;transform:scaleX(0.791)">R</s><s style="left:39.82px;transform:scaleX(0.913)">A</s><s style="left:50.62px;transform:scaleX(1.080)">M</s><s style="left:65.83px;transform:scaleX(0.954)">İ</s><s style="left:70.64px;transform:scaleX(0.777)">Ç</s></p>
<p class="t" style="left:502.90px;top:277px;color:#140a04"><s style="left:0.38px;transform:scaleX(0.984)">2</s><s style="left:9.90px;transform:scaleX(0.984)">9</s><s style="left:19.22px;transform:scaleX(0.954)">.</s><s style="left:24.02px;transform:scaleX(0.984)">4</s><s style="left:33.54px;transform:scaleX(0.984)">4</s><s style="left:43.06px;transform:scaleX(0.984)">9</s></p>
<p class="t" style="left:675.24px;top:277px;color:#3a1400"><s style="left:0.98px;transform:scaleX(0.984)">1</s></p>
<p class="t" style="left:788.24px;top:277px;color:#1a2a0c"><s style="left:0.38px;transform:scaleX(0.984)">2</s></p>
<p class="t" style="left:898.24px;top:277px;color:#1a1420"><s style="left:0.98px;transform:scaleX(0.984)">1</s></p>
<p class="t" style="left:256.50px;top:301px;color:#140a04"><s style="left:0.40px;transform:scaleX(0.858)">B</s><s style="left:10.14px;transform:scaleX(0.954)">İ</s><s style="left:15.03px;transform:scaleX(0.854)">G</s><s style="left:26.54px;transform:scaleX(0.913)">A</s></p>
<p class="t" style="left:502.90px;top:301px;color:#140a04"><s style="left:0.38px;transform:scaleX(0.984)">8</s><s style="left:9.90px;transform:scaleX(0.984)">9</s><s style="left:19.22px;transform:scaleX(0.954)">.</s><s style="left:24.02px;transform:scaleX(0.984)">8</s><s style="left:33.54px;transform:scaleX(0.984)">5</s><s style="left:43.06px;transform:scaleX(0.984)">3</s></p>
<p class="t" style="left:675.24px;top:301px;color:#3a1400"><s style="left:0.38px;transform:scaleX(0.984)">5</s></p>
<p class="t" style="left:788.24px;top:301px;color:#1a2a0c"><s style="left:0.38px;transform:scaleX(0.984)">3</s></p>
<p class="t" style="left:898.24px;top:301px;color:#1a1420"><s style="left:0.38px;transform:scaleX(0.984)">0</s></p>
<p class="t" style="left:256.50px;top:325px;color:#140a04"><s style="left:0.40px;transform:scaleX(0.858)">B</s><s style="left:10.44px;transform:scaleX(0.896)">O</s><s style="left:22.41px;transform:scaleX(0.806)">Z</s><s style="left:31.02px;transform:scaleX(0.777)">C</s><s style="left:40.81px;transform:scaleX(0.913)">A</s><s style="left:51.41px;transform:scaleX(0.913)">A</s><s style="left:62.03px;transform:scaleX(0.896)">D</s><s style="left:73.26px;transform:scaleX(0.913)">A</s></p>
<p class="t" style="left:507.66px;top:325px;color:#140a04"><s style="left:0.38px;transform:scaleX(0.984)">2</s><s style="left:9.70px;transform:scaleX(0.954)">.</s><s style="left:14.51px;transform:scaleX(0.984)">6</s><s style="left:24.62px;transform:scaleX(0.984)">1</s><s style="left:33.54px;transform:scaleX(0.984)">3</s></p>
<p class="t" style="left:675.24px;top:325px;color:#3a1400"><s style="left:0.38px;transform:scaleX(0.984)">0</s></p>
<p class="t" style="left:788.24px;top:325px;color:#1a2a0c"><s style="left:0.38px;transform:scaleX(0.984)">0</s></p>
<p class="t" style="left:898.24px;top:325px;color:#1a1420"><s style="left:0.38px;transform:scaleX(0.984)">0</s></p>
<p class="t" style="left:256.50px;top:350px;color:#140a04"><s style="left:0.39px;transform:scaleX(0.777)">Ç</s><s style="left:10.18px;transform:scaleX(0.913)">A</s><s style="left:20.82px;transform:scaleX(0.941)">N</s></p>
<p class="t" style="left:502.90px;top:350px;color:#140a04"><s style="left:0.38px;transform:scaleX(0.984)">4</s><s style="left:9.90px;transform:scaleX(0.984)">8</s><s style="left:19.22px;transform:scaleX(0.954)">.</s><s style="left:24.02px;transform:scaleX(0.984)">8</s><s style="left:33.54px;transform:scaleX(0.984)">4</s><s style="left:43.06px;transform:scaleX(0.984)">3</s></p>
<p class="t" style="left:675.24px;top:350px;color:#3a1400"><s style="left:0.38px;transform:scaleX(0.984)">4</s></p>
<p class="t" style="left:788.24px;top:350px;color:#1a2a0c"><s style="left:0.38px;transform:scaleX(0.984)">3</s></p>
<p class="t" style="left:898.24px;top:350px;color:#1a1420"><s style="left:0.38px;transform:scaleX(0.984)">0</s></p>
<p class="t" style="left:256.50px;top:374px;color:#140a04"><s style="left:0.36px;transform:scaleX(0.770)">E</s><s style="left:9.32px;transform:scaleX(0.777)">C</s><s style="left:19.04px;transform:scaleX(0.770)">E</s><s style="left:28.04px;transform:scaleX(0.913)">A</s><s style="left:38.61px;transform:scaleX(0.858)">B</s><s style="left:48.59px;transform:scaleX(0.913)">A</s><s style="left:59.12px;transform:scaleX(0.839)">T</s></p>
<p class="t" style="left:507.66px;top:374px;color:#140a04"><s style="left:0.38px;transform:scaleX(0.984)">8</s><s style="left:9.70px;transform:scaleX(0.954)">.</s><s style="left:14.51px;transform:scaleX(0.984)">9</s><s style="left:24.02px;transform:scaleX(0.984)">4</s><s style="left:33.54px;transform:scaleX(0.984)">9</s></p>
<p class="t" style="left:675.24px;top:374px;color:#3a1400"><s style="left:0.38px;transform:scaleX(0.984)">0</s></p>
<p class="t" style="left:788.24px;top:374px;color:#1a2a0c"><s style="left:0.38px;transform:scaleX(0.984)">0</s></p>
<p class="t" style="left:898.24px;top:374px;color:#1a1420"><s style="left:0.38px;transform:scaleX(0.984)">0</s></p>
<p class="t" style="left:256.50px;top:399px;color:#140a04"><s style="left:0.36px;transform:scaleX(0.770)">E</s><s style="left:9.27px;transform:scaleX(0.806)">Z</s><s style="left:17.68px;transform:scaleX(0.954)">İ</s><s style="left:22.58px;transform:scaleX(0.941)">N</s><s style="left:34.29px;transform:scaleX(0.770)">E</s></p>
<p class="t" style="left:502.90px;top:399px;color:#140a04"><s style="left:0.38px;transform:scaleX(0.984)">3</s><s style="left:10.50px;transform:scaleX(0.984)">1</s><s style="left:19.22px;transform:scaleX(0.954)">.</s><s style="left:24.02px;transform:scaleX(0.984)">3</s><s style="left:33.54px;transform:scaleX(0.984)">4</s><s style="left:43.06px;transform:scaleX(0.984)">5</s></p>
<p class="t" style="left:675.24px;top:399px;color:#3a1400"><s style="left:0.38px;transform:scaleX(0.984)">2</s></p>
<p class="t" style="left:788.24px;top:399px;color:#1a2a0c"><s style="left:0.38px;transform:scaleX(0.984)">3</s></p>
<p class="t" style="left:898.24px;top:399px;color:#1a1420"><s style="left:0.98px;transform:scaleX(0.984)">1</s></p>
<p class="t" style="left:256.50px;top:423px;color:#140a04"><s style="left:0.46px;transform:scaleX(0.854)">G</s><s style="left:11.90px;transform:scaleX(0.770)">E</s><s style="left:20.79px;transform:scaleX(0.795)">L</s><s style="left:28.35px;transform:scaleX(0.954)">İ</s><s style="left:33.17px;transform:scaleX(0.858)">B</s><s style="left:43.22px;transform:scaleX(0.896)">O</s><s style="left:55.15px;transform:scaleX(0.795)">L</s><s style="left:63.00px;transform:scaleX(0.935)">U</s></p>
<p class="t" style="left:502.90px;top:423px;color:#140a04"><s style="left:0.38px;transform:scaleX(0.984)">4</s><s style="left:9.90px;transform:scaleX(0.984)">3</s><s style="left:19.22px;transform:scaleX(0.954)">.</s><s style="left:24.02px;transform:scaleX(0.984)">8</s><s style="left:33.54px;transform:scaleX(0.984)">8</s><s style="left:43.06px;transform:scaleX(0.984)">6</s></p>
<p class="t" style="left:675.24px;top:423px;color:#3a1400"><s style="left:0.38px;transform:scaleX(0.984)">2</s></p>
<p class="t" style="left:788.24px;top:423px;color:#1a2a0c"><s style="left:0.38px;transform:scaleX(0.984)">3</s></p>
<p class="t" style="left:898.24px;top:423px;color:#1a1420"><s style="left:0.98px;transform:scaleX(0.984)">1</s></p>
<p class="t" style="left:256.50px;top:447px;color:#140a04"><s style="left:0.46px;transform:scaleX(0.854)">G</s><s style="left:12.03px;transform:scaleX(0.896)">Ö</s><s style="left:24.04px;transform:scaleX(0.820)">K</s><s style="left:33.57px;transform:scaleX(0.777)">Ç</s><s style="left:43.29px;transform:scaleX(0.770)">E</s><s style="left:52.29px;transform:scaleX(0.913)">A</s><s style="left:62.91px;transform:scaleX(0.896)">D</s><s style="left:74.14px;transform:scaleX(0.913)">A</s></p>
<p class="t" style="left:507.66px;top:447px;color:#140a04"><s style="left:0.38px;transform:scaleX(0.984)">8</s><s style="left:9.70px;transform:scaleX(0.954)">.</s><s style="left:14.51px;transform:scaleX(0.984)">7</s><s style="left:24.02px;transform:scaleX(0.984)">7</s><s style="left:33.54px;transform:scaleX(0.984)">6</s></p>
<p class="t" style="left:675.24px;top:447px;color:#3a1400"><s style="left:0.38px;transform:scaleX(0.984)">0</s></p>
<p class="t" style="left:788.24px;top:447px;color:#1a2a0c"><s style="left:0.38px;transform:scaleX(0.984)">0</s></p>
<p class="t" style="left:898.24px;top:447px;color:#1a1420"><s style="left:0.38px;transform:scaleX(0.984)">0</s></p>
<p class="t" style="left:256.50px;top:472px;color:#140a04"><s style="left:0.31px;transform:scaleX(0.795)">L</s><s style="left:8.11px;transform:scaleX(0.913)">A</s><s style="left:18.66px;transform:scaleX(0.816)">P</s><s style="left:28.08px;transform:scaleX(0.724)">S</s><s style="left:36.50px;transform:scaleX(0.770)">E</s><s style="left:45.45px;transform:scaleX(0.820)">K</s><s style="left:54.77px;transform:scaleX(0.954)">İ</s></p>
<p class="t" style="left:502.90px;top:472px;color:#140a04"><s style="left:0.38px;transform:scaleX(0.984)">2</s><s style="left:9.90px;transform:scaleX(0.984)">5</s><s style="left:19.22px;transform:scaleX(0.954)">.</s><s style="left:24.02px;transform:scaleX(0.984)">9</s><s style="left:33.54px;transform:scaleX(0.984)">3</s><s style="left:43.66px;transform:scaleX(0.984)">1</s></p>
<p class="t" style="left:675.24px;top:472px;color:#3a1400"><s style="left:0.98px;transform:scaleX(0.984)">1</s></p>
<p class="t" style="left:788.24px;top:472px;color:#1a2a0c"><s style="left:0.38px;transform:scaleX(0.984)">2</s></p>
<p class="t" style="left:898.24px;top:472px;color:#1a1420"><s style="left:0.98px;transform:scaleX(0.984)">1</s></p>
<p class="t" style="left:256.50px;top:496px;color:#140a04"><s style="left:0.36px;transform:scaleX(0.768)">Y</s><s style="left:9.27px;transform:scaleX(0.770)">E</s><s style="left:18.32px;transform:scaleX(0.941)">N</s><s style="left:29.85px;transform:scaleX(0.954)">İ</s><s style="left:34.67px;transform:scaleX(0.777)">C</s><s style="left:44.39px;transform:scaleX(0.770)">E</s></p>
<p class="t" style="left:502.90px;top:496px;color:#140a04"><s style="left:0.38px;transform:scaleX(0.984)">3</s><s style="left:9.90px;transform:scaleX(0.984)">2</s><s style="left:19.22px;transform:scaleX(0.954)">.</s><s style="left:24.02px;transform:scaleX(0.984)">9</s><s style="left:33.54px;transform:scaleX(0.984)">4</s><s style="left:43.06px;transform:scaleX(0.984)">8</s></p>
<p class="t" style="left:675.24px;top:496px;color:#3a1400"><s style="left:0.98px;transform:scaleX(0.984)">1</s></p>
<p class="t" style="left:788.24px;top:496px;color:#1a2a0c"><s style="left:0.38px;transform:scaleX(0.984)">3</s></p>
<p class="t" style="left:898.24px;top:496px;color:#1a1420"><s style="left:0.38px;transform:scaleX(0.984)">2</s></p>
<p class="b" style="left:55.02px;top:361px;color:#111"><s style="left:0.69px;transform:scaleX(1.044)">1</s><s style="left:9.58px;transform:scaleX(1.044)">7</s></p>
<p class="b" style="left:124.65px;top:361px;color:#111"><s style="left:0.10px;transform:scaleX(0.839)">Ç</s><s style="left:10.01px;transform:scaleX(0.961)">A</s><s style="left:21.35px;transform:scaleX(1.045)">N</s><s style="left:33.66px;transform:scaleX(0.961)">A</s><s style="left:44.98px;transform:scaleX(0.868)">K</s><s style="left:55.21px;transform:scaleX(0.868)">K</s><s style="left:65.45px;transform:scaleX(0.961)">A</s><s style="left:76.75px;transform:scaleX(0.793)">L</s><s style="left:84.67px;transform:scaleX(0.838)">E</s></p>
<p class="b" style="left:112.28px;top:521px;color:#111"><s style="left:0.09px;transform:scaleX(0.928)">T</s><s style="left:9.38px;transform:scaleX(0.995)">O</s><s style="left:22.00px;transform:scaleX(0.914)">P</s><s style="left:31.93px;transform:scaleX(0.793)">L</s><s style="left:39.87px;transform:scaleX(0.961)">A</s><s style="left:51.25px;transform:scaleX(1.202)">M</s></p>
<p class="t" style="left:498.15px;top:521px;color:#140a04"><s style="left:0.38px;transform:scaleX(0.984)">5</s><s style="left:10.50px;transform:scaleX(0.984)">1</s><s style="left:19.41px;transform:scaleX(0.984)">9</s><s style="left:28.73px;transform:scaleX(0.954)">.</s><s style="left:33.54px;transform:scaleX(0.984)">7</s><s style="left:43.06px;transform:scaleX(0.984)">9</s><s style="left:52.57px;transform:scaleX(0.984)">3</s></p>
<p class="t" style="left:670.48px;top:521px;color:#140a04"><s style="left:0.38px;transform:scaleX(0.984)">2</s><s style="left:9.90px;transform:scaleX(0.984)">3</s></p>
<p class="t" style="left:783.48px;top:521px;color:#140a04"><s style="left:0.38px;transform:scaleX(0.984)">3</s><s style="left:10.50px;transform:scaleX(0.984)">1</s></p>
<p class="t" style="left:893.48px;top:521px;color:#140a04"><s style="left:0.98px;transform:scaleX(0.984)">1</s><s style="left:10.50px;transform:scaleX(0.984)">1</s></p>
<p class="t" style="left:256.50px;top:545px;color:#140a04"><s style="left:0.63px;transform:scaleX(1.080)">M</s><s style="left:16.00px;transform:scaleX(0.770)">E</s><s style="left:24.97px;transform:scaleX(0.791)">R</s><s style="left:34.89px;transform:scaleX(0.820)">K</s><s style="left:44.39px;transform:scaleX(0.770)">E</s><s style="left:53.30px;transform:scaleX(0.806)">Z</s></p>
<p class="t" style="left:502.90px;top:545px;color:#140a04"><s style="left:0.38px;transform:scaleX(0.984)">9</s><s style="left:9.90px;transform:scaleX(0.984)">2</s><s style="left:19.22px;transform:scaleX(0.954)">.</s><s style="left:24.62px;transform:scaleX(0.984)">1</s><s style="left:33.54px;transform:scaleX(0.984)">3</s><s style="left:43.06px;transform:scaleX(0.984)">9</s></p>
<p class="t" style="left:675.24px;top:545px;color:#3a1400"><s style="left:0.38px;transform:scaleX(0.984)">4</s></p>
<p class="t" style="left:788.24px;top:545px;color:#1a2a0c"><s style="left:0.38px;transform:scaleX(0.984)">3</s></p>
<p class="t" style="left:898.24px;top:545px;color:#1a1420"><s style="left:0.38px;transform:scaleX(0.984)">0</s></p>
<p class="t" style="left:256.50px;top:569px;color:#140a04"><s style="left:0.42px;transform:scaleX(0.913)">A</s><s style="left:10.95px;transform:scaleX(0.839)">T</s><s style="left:19.89px;transform:scaleX(0.820)">K</s><s style="left:29.45px;transform:scaleX(0.913)">A</s><s style="left:40.02px;transform:scaleX(0.791)">R</s><s style="left:49.98px;transform:scaleX(0.913)">A</s><s style="left:60.54px;transform:scaleX(0.777)">C</s><s style="left:70.33px;transform:scaleX(0.913)">A</s><s style="left:80.81px;transform:scaleX(0.795)">L</s><s style="left:88.61px;transform:scaleX(0.913)">A</s><s style="left:99.18px;transform:scaleX(0.791)">R</s></p>
<p class="t" style="left:507.66px;top:569px;color:#140a04"><s style="left:0.38px;transform:scaleX(0.984)">5</s><s style="left:9.70px;transform:scaleX(0.954)">.</s><s style="left:14.51px;transform:scaleX(0.984)">4</s><s style="left:24.02px;transform:scaleX(0.984)">7</s><s style="left:33.54px;transform:scaleX(0.984)">0</s></p>
<p class="t" style="left:675.24px;top:569px;color:#3a1400"><s style="left:0.38px;transform:scaleX(0.984)">0</s></p>
<p class="t" style="left:788.24px;top:569px;color:#1a2a0c"><s style="left:0.38px;transform:scaleX(0.984)">0</s></p>
<p class="t" style="left:898.24px;top:569px;color:#1a1420"><s style="left:0.38px;transform:scaleX(0.984)">0</s></p>
<p class="t" style="left:256.50px;top:594px;color:#140a04"><s style="left:0.40px;transform:scaleX(0.858)">B</s><s style="left:10.38px;transform:scaleX(0.913)">A</s><s style="left:20.91px;transform:scaleX(0.768)">Y</s><s style="left:29.86px;transform:scaleX(0.791)">R</s><s style="left:39.82px;transform:scaleX(0.913)">A</s><s style="left:50.62px;transform:scaleX(1.080)">M</s><s style="left:66.13px;transform:scaleX(0.896)">Ö</s><s style="left:78.15px;transform:scaleX(0.791)">R</s><s style="left:88.05px;transform:scaleX(0.770)">E</s><s style="left:97.10px;transform:scaleX(0.941)">N</s></p>
<p class="t" style="left:507.66px;top:594px;color:#140a04"><s style="left:0.38px;transform:scaleX(0.984)">2</s><s style="left:9.70px;transform:scaleX(0.954)">.</s><s style="left:14.51px;transform:scaleX(0.984)">2</s><s style="left:24.02px;transform:scaleX(0.984)">7</s><s style="left:33.54px;transform:scaleX(0.984)">5</s></p>
<p class="t" style="left:675.24px;top:594px;color:#3a1400"><s style="left:0.38px;transform:scaleX(0.984)">0</s></p>
<p class="t" style="left:788.24px;top:594px;color:#1a2a0c"><s style="left:0.38px;transform:scaleX(0.984)">0</s></p>
<p class="t" style="left:898.24px;top:594px;color:#1a1420"><s style="left:0.38px;transform:scaleX(0.984)">0</s></p>
<p class="t" style="left:256.50px;top:618px;color:#140a04"><s style="left:0.39px;transform:scaleX(0.777)">Ç</s><s style="left:10.11px;transform:scaleX(0.770)">E</s><s style="left:19.08px;transform:scaleX(0.791)">R</s><s style="left:29.00px;transform:scaleX(0.820)">K</s><s style="left:38.49px;transform:scaleX(0.770)">E</s><s style="left:47.40px;transform:scaleX(0.724)">Ş</s></p>
<p class="t" style="left:502.90px;top:618px;color:#140a04"><s style="left:0.98px;transform:scaleX(0.984)">1</s><s style="left:9.90px;transform:scaleX(0.984)">6</s><s style="left:19.22px;transform:scaleX(0.954)">.</s><s style="left:24.02px;transform:scaleX(0.984)">6</s><s style="left:34.14px;transform:scaleX(0.984)">1</s><s style="left:43.06px;transform:scaleX(0.984)">4</s></p>
<p class="t" style="left:675.24px;top:618px;color:#3a1400"><s style="left:0.98px;transform:scaleX(0.984)">1</s></p>
<p class="t" style="left:788.24px;top:618px;color:#1a2a0c"><s style="left:0.98px;transform:scaleX(0.984)">1</s></p>
<p class="t" style="left:898.24px;top:618px;color:#1a1420"><s style="left:0.38px;transform:scaleX(0.984)">0</s></p>
<p class="t" style="left:256.50px;top:643px;color:#140a04"><s style="left:0.36px;transform:scaleX(0.770)">E</s><s style="left:9.24px;transform:scaleX(0.795)">L</s><s style="left:17.07px;transform:scaleX(0.896)">D</s><s style="left:28.06px;transform:scaleX(0.954)">İ</s><s style="left:32.90px;transform:scaleX(0.894)">V</s><s style="left:43.28px;transform:scaleX(0.913)">A</s><s style="left:53.93px;transform:scaleX(0.941)">N</s></p>
<p class="t" style="left:507.66px;top:643px;color:#140a04"><s style="left:0.38px;transform:scaleX(0.984)">5</s><s style="left:9.70px;transform:scaleX(0.954)">.</s><s style="left:14.51px;transform:scaleX(0.984)">2</s><s style="left:24.02px;transform:scaleX(0.984)">7</s><s style="left:33.54px;transform:scaleX(0.984)">5</s></p>
<p class="t" style="left:675.24px;top:643px;color:#3a1400"><s style="left:0.38px;transform:scaleX(0.984)">0</s></p>
<p class="t" style="left:788.24px;top:643px;color:#1a2a0c"><s style="left:0.38px;transform:scaleX(0.984)">0</s></p>
<p class="t" style="left:898.24px;top:643px;color:#1a1420"><s style="left:0.38px;transform:scaleX(0.984)">0</s></p>
<p class="t" style="left:256.50px;top:667px;color:#140a04"><s style="left:0.18px;transform:scaleX(0.954)">I</s><s style="left:4.92px;transform:scaleX(0.795)">L</s><s style="left:12.76px;transform:scaleX(0.854)">G</s><s style="left:24.27px;transform:scaleX(0.913)">A</s><s style="left:34.78px;transform:scaleX(0.806)">Z</s></p>
<p class="t" style="left:502.90px;top:667px;color:#140a04"><s style="left:0.98px;transform:scaleX(0.984)">1</s><s style="left:9.90px;transform:scaleX(0.984)">3</s><s style="left:19.22px;transform:scaleX(0.954)">.</s><s style="left:24.02px;transform:scaleX(0.984)">5</s><s style="left:33.54px;transform:scaleX(0.984)">8</s><s style="left:43.66px;transform:scaleX(0.984)">1</s></p>
<p class="t" style="left:675.24px;top:667px;color:#3a1400"><s style="left:0.38px;transform:scaleX(0.984)">0</s></p>
<p class="t" style="left:788.24px;top:667px;color:#1a2a0c"><s style="left:0.98px;transform:scaleX(0.984)">1</s></p>
<p class="t" style="left:898.24px;top:667px;color:#1a1420"><s style="left:0.98px;transform:scaleX(0.984)">1</s></p>
<p class="t" style="left:256.50px;top:691px;color:#140a04"><s style="left:0.38px;transform:scaleX(0.820)">K</s><s style="left:9.70px;transform:scaleX(0.954)">I</s><s style="left:14.47px;transform:scaleX(0.806)">Z</s><s style="left:22.88px;transform:scaleX(0.954)">I</s><s style="left:27.61px;transform:scaleX(0.795)">L</s><s style="left:35.17px;transform:scaleX(0.954)">I</s><s style="left:40.00px;transform:scaleX(0.791)">R</s><s style="left:50.16px;transform:scaleX(1.080)">M</s><s style="left:65.61px;transform:scaleX(0.913)">A</s><s style="left:76.16px;transform:scaleX(0.820)">K</s></p>
<p class="t" style="left:507.66px;top:691px;color:#140a04"><s style="left:0.38px;transform:scaleX(0.984)">7</s><s style="left:9.70px;transform:scaleX(0.954)">.</s><s style="left:14.51px;transform:scaleX(0.984)">2</s><s style="left:24.02px;transform:scaleX(0.984)">0</s><s style="left:33.54px;transform:scaleX(0.984)">7</s></p>
<p class="t" style="left:675.24px;top:691px;color:#3a1400"><s style="left:0.38px;transform:scaleX(0.984)">0</s></p>
<p class="t" style="left:788.24px;top:691px;color:#1a2a0c"><s style="left:0.38px;transform:scaleX(0.984)">0</s></p>
<p class="t" style="left:898.24px;top:691px;color:#1a1420"><s style="left:0.38px;transform:scaleX(0.984)">0</s></p>
<p class="t" style="left:256.50px;top:716px;color:#140a04"><s style="left:0.38px;transform:scaleX(0.820)">K</s><s style="left:10.00px;transform:scaleX(0.896)">O</s><s style="left:22.03px;transform:scaleX(0.791)">R</s><s style="left:32.03px;transform:scaleX(0.854)">G</s><s style="left:43.58px;transform:scaleX(0.935)">U</s><s style="left:55.34px;transform:scaleX(0.941)">N</s></p>
<p class="t" style="left:507.66px;top:716px;color:#140a04"><s style="left:0.38px;transform:scaleX(0.984)">4</s><s style="left:9.70px;transform:scaleX(0.954)">.</s><s style="left:14.51px;transform:scaleX(0.984)">0</s><s style="left:24.02px;transform:scaleX(0.984)">9</s><s style="left:33.54px;transform:scaleX(0.984)">5</s></p>
<p class="t" style="left:675.24px;top:716px;color:#3a1400"><s style="left:0.38px;transform:scaleX(0.984)">0</s></p>
<p class="t" style="left:788.24px;top:716px;color:#1a2a0c"><s style="left:0.38px;transform:scaleX(0.984)">0</s></p>
<p class="t" style="left:898.24px;top:716px;color:#1a1420"><s style="left:0.38px;transform:scaleX(0.984)">0</s></p>
<p class="t" style="left:256.50px;top:740px;color:#140a04"><s style="left:0.38px;transform:scaleX(0.820)">K</s><s style="left:9.99px;transform:scaleX(0.935)">U</s><s style="left:21.66px;transform:scaleX(0.791)">R</s><s style="left:31.54px;transform:scaleX(0.724)">Ş</s><s style="left:40.07px;transform:scaleX(0.935)">U</s><s style="left:51.82px;transform:scaleX(0.941)">N</s><s style="left:63.48px;transform:scaleX(0.795)">L</s><s style="left:71.33px;transform:scaleX(0.935)">U</s></p>
<p class="t" style="left:507.66px;top:740px;color:#140a04"><s style="left:0.38px;transform:scaleX(0.984)">7</s><s style="left:9.70px;transform:scaleX(0.954)">.</s><s style="left:14.51px;transform:scaleX(0.984)">9</s><s style="left:24.02px;transform:scaleX(0.984)">2</s><s style="left:34.14px;transform:scaleX(0.984)">1</s></p>
<p class="t" style="left:675.24px;top:740px;color:#3a1400"><s style="left:0.38px;transform:scaleX(0.984)">0</s></p>
<p class="t" style="left:788.24px;top:740px;color:#1a2a0c"><s style="left:0.38px;transform:scaleX(0.984)">0</s></p>
<p class="t" style="left:898.24px;top:740px;color:#1a1420"><s style="left:0.38px;transform:scaleX(0.984)">0</s></p>
<p class="t" style="left:256.50px;top:764px;color:#140a04"><s style="left:0.48px;transform:scaleX(0.896)">O</s><s style="left:12.51px;transform:scaleX(0.791)">R</s><s style="left:22.41px;transform:scaleX(0.839)">T</s><s style="left:31.39px;transform:scaleX(0.913)">A</s></p>
<p class="t" style="left:502.90px;top:764px;color:#140a04"><s style="left:0.98px;transform:scaleX(0.984)">1</s><s style="left:9.90px;transform:scaleX(0.984)">0</s><s style="left:19.22px;transform:scaleX(0.954)">.</s><s style="left:24.02px;transform:scaleX(0.984)">9</s><s style="left:33.54px;transform:scaleX(0.984)">5</s><s style="left:43.06px;transform:scaleX(0.984)">3</s></p>
<p class="t" style="left:675.24px;top:764px;color:#3a1400"><s style="left:0.38px;transform:scaleX(0.984)">0</s></p>
<p class="t" style="left:788.24px;top:764px;color:#1a2a0c"><s style="left:0.98px;transform:scaleX(0.984)">1</s></p>
<p class="t" style="left:898.24px;top:764px;color:#1a1420"><s style="left:0.98px;transform:scaleX(0.984)">1</s></p>
<p class="t" style="left:256.50px;top:789px;color:#140a04"><s style="left:0.34px;transform:scaleX(0.724)">Ş</s><s style="left:8.82px;transform:scaleX(0.913)">A</s><s style="left:19.39px;transform:scaleX(0.858)">B</s><s style="left:29.37px;transform:scaleX(0.913)">A</s><s style="left:40.02px;transform:scaleX(0.941)">N</s><s style="left:51.85px;transform:scaleX(0.896)">Ö</s><s style="left:63.83px;transform:scaleX(0.806)">Z</s><s style="left:72.52px;transform:scaleX(0.935)">Ü</s></p>
<p class="t" style="left:502.90px;top:789px;color:#140a04"><s style="left:0.98px;transform:scaleX(0.984)">1</s><s style="left:9.90px;transform:scaleX(0.984)">0</s><s style="left:19.22px;transform:scaleX(0.954)">.</s><s style="left:24.02px;transform:scaleX(0.984)">5</s><s style="left:33.54px;transform:scaleX(0.984)">6</s><s style="left:43.06px;transform:scaleX(0.984)">0</s></p>
<p class="t" style="left:675.24px;top:789px;color:#3a1400"><s style="left:0.38px;transform:scaleX(0.984)">0</s></p>
<p class="t" style="left:788.24px;top:789px;color:#1a2a0c"><s style="left:0.98px;transform:scaleX(0.984)">1</s></p>
<p class="t" style="left:898.24px;top:789px;color:#1a1420"><s style="left:0.98px;transform:scaleX(0.984)">1</s></p>
<p class="t" style="left:256.50px;top:813px;color:#140a04"><s style="left:0.36px;transform:scaleX(0.768)">Y</s><s style="left:9.34px;transform:scaleX(0.913)">A</s><s style="left:19.89px;transform:scaleX(0.816)">P</s><s style="left:29.37px;transform:scaleX(0.791)">R</s><s style="left:39.33px;transform:scaleX(0.913)">A</s><s style="left:49.88px;transform:scaleX(0.820)">K</s><s style="left:59.32px;transform:scaleX(0.795)">L</s><s style="left:66.89px;transform:scaleX(0.954)">I</s></p>
<p class="t" style="left:507.66px;top:813px;color:#140a04"><s style="left:0.38px;transform:scaleX(0.984)">7</s><s style="left:9.70px;transform:scaleX(0.954)">.</s><s style="left:14.51px;transform:scaleX(0.984)">7</s><s style="left:24.02px;transform:scaleX(0.984)">9</s><s style="left:33.54px;transform:scaleX(0.984)">0</s></p>
<p class="t" style="left:675.24px;top:813px;color:#3a1400"><s style="left:0.38px;transform:scaleX(0.984)">0</s></p>
<p class="t" style="left:788.24px;top:813px;color:#1a2a0c"><s style="left:0.38px;transform:scaleX(0.984)">0</s></p>
<p class="t" style="left:898.24px;top:813px;color:#1a1420"><s style="left:0.38px;transform:scaleX(0.984)">0</s></p>
<p class="b" style="left:55.02px;top:678px;color:#111"><s style="left:0.69px;transform:scaleX(1.044)">1</s><s style="left:9.58px;transform:scaleX(1.044)">8</s></p>
<p class="b" style="left:139.35px;top:678px;color:#111"><s style="left:0.10px;transform:scaleX(0.839)">Ç</s><s style="left:10.01px;transform:scaleX(0.961)">A</s><s style="left:21.35px;transform:scaleX(1.045)">N</s><s style="left:33.65px;transform:scaleX(0.868)">K</s><s style="left:43.83px;transform:scaleX(1.101)">I</s><s style="left:48.87px;transform:scaleX(0.893)">R</s><s style="left:59.35px;transform:scaleX(1.101)">I</s></p>
<p class="b" style="left:112.28px;top:838px;color:#111"><s style="left:0.09px;transform:scaleX(0.928)">T</s><s style="left:9.38px;transform:scaleX(0.995)">O</s><s style="left:22.00px;transform:scaleX(0.914)">P</s><s style="left:31.93px;transform:scaleX(0.793)">L</s><s style="left:39.87px;transform:scaleX(0.961)">A</s><s style="left:51.25px;transform:scaleX(1.202)">M</s></p>
<p class="t" style="left:498.15px;top:838px;color:#140a04"><s style="left:0.98px;transform:scaleX(0.984)">1</s><s style="left:9.90px;transform:scaleX(0.984)">8</s><s style="left:19.41px;transform:scaleX(0.984)">3</s><s style="left:28.73px;transform:scaleX(0.954)">.</s><s style="left:33.54px;transform:scaleX(0.984)">8</s><s style="left:43.06px;transform:scaleX(0.984)">8</s><s style="left:52.57px;transform:scaleX(0.984)">0</s></p>
<p class="t" style="left:675.24px;top:838px;color:#140a04"><s style="left:0.38px;transform:scaleX(0.984)">5</s></p>
<p class="t" style="left:788.24px;top:838px;color:#140a04"><s style="left:0.38px;transform:scaleX(0.984)">7</s></p>
<p class="t" style="left:898.24px;top:838px;color:#140a04"><s style="left:0.38px;transform:scaleX(0.984)">3</s></p>
<p class="t" style="left:256.50px;top:862px;color:#140a04"><s style="left:0.63px;transform:scaleX(1.080)">M</s><s style="left:16.00px;transform:scaleX(0.770)">E</s><s style="left:24.97px;transform:scaleX(0.791)">R</s><s style="left:34.89px;transform:scaleX(0.820)">K</s><s style="left:44.39px;transform:scaleX(0.770)">E</s><s style="left:53.30px;transform:scaleX(0.806)">Z</s></p>
<p class="t" style="left:498.15px;top:862px;color:#140a04"><s style="left:0.38px;transform:scaleX(0.984)">2</s><s style="left:9.90px;transform:scaleX(0.984)">8</s><s style="left:19.41px;transform:scaleX(0.984)">8</s><s style="left:28.73px;transform:scaleX(0.954)">.</s><s style="left:33.54px;transform:scaleX(0.984)">5</s><s style="left:43.06px;transform:scaleX(0.984)">7</s><s style="left:52.57px;transform:scaleX(0.984)">8</s></p>
<p class="t" style="left:670.48px;top:862px;color:#3a1400"><s style="left:0.98px;transform:scaleX(0.984)">1</s><s style="left:9.90px;transform:scaleX(0.984)">5</s></p>
<p class="t" style="left:783.48px;top:862px;color:#1a2a0c"><s style="left:0.98px;transform:scaleX(0.984)">1</s><s style="left:9.90px;transform:scaleX(0.984)">5</s></p>
<p class="t" style="left:898.24px;top:862px;color:#1a1420"><s style="left:0.38px;transform:scaleX(0.984)">0</s></p>
<p class="t" style="left:256.50px;top:886px;color:#140a04"><s style="left:0.42px;transform:scaleX(0.913)">A</s><s style="left:10.90px;transform:scaleX(0.795)">L</s><s style="left:18.71px;transform:scaleX(0.913)">A</s><s style="left:29.27px;transform:scaleX(0.777)">C</s><s style="left:39.06px;transform:scaleX(0.913)">A</s></p>
<p class="t" style="left:502.90px;top:886px;color:#140a04"><s style="left:0.38px;transform:scaleX(0.984)">3</s><s style="left:9.90px;transform:scaleX(0.984)">2</s><s style="left:19.22px;transform:scaleX(0.954)">.</s><s style="left:24.02px;transform:scaleX(0.984)">0</s><s style="left:34.14px;transform:scaleX(0.984)">1</s><s style="left:43.06px;transform:scaleX(0.984)">7</s></p>
<p class="t" style="left:675.24px;top:886px;color:#3a1400"><s style="left:0.38px;transform:scaleX(0.984)">3</s></p>
<p class="t" style="left:788.24px;top:886px;color:#1a2a0c"><s style="left:0.38px;transform:scaleX(0.984)">3</s></p>
<p class="t" style="left:898.24px;top:886px;color:#1a1420"><s style="left:0.38px;transform:scaleX(0.984)">0</s></p>
<p class="t" style="left:256.50px;top:911px;color:#140a04"><s style="left:0.40px;transform:scaleX(0.858)">B</s><s style="left:10.38px;transform:scaleX(0.913)">A</s><s style="left:20.91px;transform:scaleX(0.768)">Y</s><s style="left:29.89px;transform:scaleX(0.913)">A</s><s style="left:40.42px;transform:scaleX(0.839)">T</s></p>
<p class="t" style="left:502.90px;top:911px;color:#140a04"><s style="left:0.98px;transform:scaleX(0.984)">1</s><s style="left:9.90px;transform:scaleX(0.984)">7</s><s style="left:19.22px;transform:scaleX(0.954)">.</s><s style="left:24.02px;transform:scaleX(0.984)">0</s><s style="left:33.54px;transform:scaleX(0.984)">2</s><s style="left:43.06px;transform:scaleX(0.984)">2</s></p>
<p class="t" style="left:675.24px;top:911px;color:#3a1400"><s style="left:0.98px;transform:scaleX(0.984)">1</s></p>
<p class="t" style="left:788.24px;top:911px;color:#1a2a0c"><s style="left:0.98px;transform:scaleX(0.984)">1</s></p>
<p class="t" style="left:898.24px;top:911px;color:#1a1420"><s style="left:0.38px;transform:scaleX(0.984)">0</s></p>
<p class="t" style="left:256.50px;top:935px;color:#140a04"><s style="left:0.40px;transform:scaleX(0.858)">B</s><s style="left:10.44px;transform:scaleX(0.896)">O</s><s style="left:22.53px;transform:scaleX(0.854)">Ğ</s><s style="left:34.04px;transform:scaleX(0.913)">A</s><s style="left:44.56px;transform:scaleX(0.806)">Z</s><s style="left:53.16px;transform:scaleX(0.820)">K</s><s style="left:62.72px;transform:scaleX(0.913)">A</s><s style="left:73.20px;transform:scaleX(0.795)">L</s><s style="left:80.93px;transform:scaleX(0.770)">E</s></p>
<p class="t" style="left:507.66px;top:935px;color:#140a04"><s style="left:0.38px;transform:scaleX(0.984)">3</s><s style="left:9.70px;transform:scaleX(0.954)">.</s><s style="left:14.51px;transform:scaleX(0.984)">7</s><s style="left:24.02px;transform:scaleX(0.984)">2</s><s style="left:33.54px;transform:scaleX(0.984)">8</s></p>
<p class="t" style="left:675.24px;top:935px;color:#3a1400"><s style="left:0.38px;transform:scaleX(0.984)">0</s></p>
<p class="t" style="left:788.24px;top:935px;color:#1a2a0c"><s style="left:0.38px;transform:scaleX(0.984)">0</s></p>
<p class="t" style="left:898.24px;top:935px;color:#1a1420"><s style="left:0.38px;transform:scaleX(0.984)">0</s></p>
<p class="t" style="left:256.50px;top:960px;color:#140a04"><s style="left:0.45px;transform:scaleX(0.896)">D</s><s style="left:11.74px;transform:scaleX(0.896)">O</s><s style="left:23.82px;transform:scaleX(0.896)">D</s><s style="left:35.09px;transform:scaleX(0.935)">U</s><s style="left:46.77px;transform:scaleX(0.791)">R</s><s style="left:56.77px;transform:scaleX(0.854)">G</s><s style="left:68.28px;transform:scaleX(0.913)">A</s></p>
<p class="t" style="left:507.66px;top:960px;color:#140a04"><s style="left:0.38px;transform:scaleX(0.984)">5</s><s style="left:9.70px;transform:scaleX(0.954)">.</s><s style="left:14.51px;transform:scaleX(0.984)">8</s><s style="left:24.02px;transform:scaleX(0.984)">5</s><s style="left:33.54px;transform:scaleX(0.984)">4</s></p>
<p class="t" style="left:675.24px;top:960px;color:#3a1400"><s style="left:0.38px;transform:scaleX(0.984)">0</s></p>
<p class="t" style="left:788.24px;top:960px;color:#1a2a0c"><s style="left:0.38px;transform:scaleX(0.984)">0</s></p>
<p class="t" style="left:898.24px;top:960px;color:#1a1420"><s style="left:0.38px;transform:scaleX(0.984)">0</s></p>
<p class="t" style="left:256.50px;top:984px;color:#140a04"><s style="left:0.18px;transform:scaleX(0.954)">İ</s><s style="left:4.95px;transform:scaleX(0.724)">S</s><s style="left:13.39px;transform:scaleX(0.820)">K</s><s style="left:22.71px;transform:scaleX(0.954)">İ</s><s style="left:27.45px;transform:scaleX(0.795)">L</s><s style="left:35.01px;transform:scaleX(0.954)">İ</s><s style="left:39.81px;transform:scaleX(0.816)">P</s></p>
<p class="t" style="left:502.90px;top:984px;color:#140a04"><s style="left:0.38px;transform:scaleX(0.984)">3</s><s style="left:9.90px;transform:scaleX(0.984)">2</s><s style="left:19.22px;transform:scaleX(0.954)">.</s><s style="left:24.02px;transform:scaleX(0.984)">9</s><s style="left:33.54px;transform:scaleX(0.984)">5</s><s style="left:43.06px;transform:scaleX(0.984)">3</s></p>
<p class="t" style="left:675.24px;top:984px;color:#3a1400"><s style="left:0.38px;transform:scaleX(0.984)">2</s></p>
<p class="t" style="left:788.24px;top:984px;color:#1a2a0c"><s style="left:0.38px;transform:scaleX(0.984)">3</s></p>
<p class="t" style="left:898.24px;top:984px;color:#1a1420"><s style="left:0.98px;transform:scaleX(0.984)">1</s></p>
<p class="t" style="left:256.50px;top:1008px;color:#140a04"><s style="left:0.38px;transform:scaleX(0.820)">K</s><s style="left:9.94px;transform:scaleX(0.913)">A</s><s style="left:20.51px;transform:scaleX(0.791)">R</s><s style="left:30.51px;transform:scaleX(0.854)">G</s><s style="left:41.78px;transform:scaleX(0.954)">I</s></p>
<p class="t" style="left:502.90px;top:1008px;color:#140a04"><s style="left:0.98px;transform:scaleX(0.984)">1</s><s style="left:9.90px;transform:scaleX(0.984)">5</s><s style="left:19.22px;transform:scaleX(0.954)">.</s><s style="left:24.02px;transform:scaleX(0.984)">3</s><s style="left:33.54px;transform:scaleX(0.984)">2</s><s style="left:43.06px;transform:scaleX(0.984)">2</s></p>
<p class="t" style="left:675.24px;top:1008px;color:#3a1400"><s style="left:0.98px;transform:scaleX(0.984)">1</s></p>
<p class="t" style="left:788.24px;top:1008px;color:#1a2a0c"><s style="left:0.98px;transform:scaleX(0.984)">1</s></p>
<p class="t" style="left:898.24px;top:1008px;color:#1a1420"><s style="left:0.38px;transform:scaleX(0.984)">0</s></p>
<p class="t" style="left:256.50px;top:1033px;color:#140a04"><s style="left:0.31px;transform:scaleX(0.795)">L</s><s style="left:8.11px;transform:scaleX(0.913)">A</s><s style="left:18.67px;transform:scaleX(0.777)">Ç</s><s style="left:28.22px;transform:scaleX(0.954)">İ</s><s style="left:33.12px;transform:scaleX(0.941)">N</s></p>
<p class="t" style="left:507.66px;top:1033px;color:#140a04"><s style="left:0.38px;transform:scaleX(0.984)">4</s><s style="left:9.70px;transform:scaleX(0.954)">.</s><s style="left:14.51px;transform:scaleX(0.984)">6</s><s style="left:24.02px;transform:scaleX(0.984)">9</s><s style="left:33.54px;transform:scaleX(0.984)">4</s></p>
<p class="t" style="left:675.24px;top:1033px;color:#3a1400"><s style="left:0.38px;transform:scaleX(0.984)">0</s></p>
<p class="t" style="left:788.24px;top:1033px;color:#1a2a0c"><s style="left:0.38px;transform:scaleX(0.984)">0</s></p>
<p class="t" style="left:898.24px;top:1033px;color:#1a1420"><s style="left:0.38px;transform:scaleX(0.984)">0</s></p>
<p class="t" style="left:256.50px;top:1057px;color:#140a04"><s style="left:0.63px;transform:scaleX(1.080)">M</s><s style="left:16.00px;transform:scaleX(0.770)">E</s><s style="left:24.97px;transform:scaleX(0.777)">C</s><s style="left:34.52px;transform:scaleX(0.954)">İ</s><s style="left:39.30px;transform:scaleX(0.839)">T</s><s style="left:48.34px;transform:scaleX(0.896)">Ö</s><s style="left:60.31px;transform:scaleX(0.806)">Z</s><s style="left:69.00px;transform:scaleX(0.935)">Ü</s></p>
<p class="t" style="left:502.90px;top:1057px;color:#140a04"><s style="left:0.98px;transform:scaleX(0.984)">1</s><s style="left:9.90px;transform:scaleX(0.984)">5</s><s style="left:19.22px;transform:scaleX(0.954)">.</s><s style="left:24.02px;transform:scaleX(0.984)">3</s><s style="left:33.54px;transform:scaleX(0.984)">2</s><s style="left:43.06px;transform:scaleX(0.984)">4</s></p>
<p class="t" style="left:675.24px;top:1057px;color:#3a1400"><s style="left:0.38px;transform:scaleX(0.984)">0</s></p>
<p class="t" style="left:788.24px;top:1057px;color:#1a2a0c"><s style="left:0.98px;transform:scaleX(0.984)">1</s></p>
<p class="t" style="left:898.24px;top:1057px;color:#1a1420"><s style="left:0.98px;transform:scaleX(0.984)">1</s></p>
<p class="t" style="left:256.50px;top:1082px;color:#140a04"><s style="left:0.48px;transform:scaleX(0.896)">O</s><s style="left:12.58px;transform:scaleX(0.854)">Ğ</s><s style="left:24.13px;transform:scaleX(0.935)">U</s><s style="left:35.75px;transform:scaleX(0.806)">Z</s><s style="left:44.28px;transform:scaleX(0.795)">L</s><s style="left:52.08px;transform:scaleX(0.913)">A</s><s style="left:62.65px;transform:scaleX(0.791)">R</s></p>
<p class="t" style="left:507.66px;top:1082px;color:#140a04"><s style="left:0.38px;transform:scaleX(0.984)">5</s><s style="left:9.70px;transform:scaleX(0.954)">.</s><s style="left:14.51px;transform:scaleX(0.984)">4</s><s style="left:24.02px;transform:scaleX(0.984)">3</s><s style="left:33.54px;transform:scaleX(0.984)">8</s></p>
<p class="t" style="left:675.24px;top:1082px;color:#3a1400"><s style="left:0.38px;transform:scaleX(0.984)">0</s></p>
<p class="t" style="left:788.24px;top:1082px;color:#1a2a0c"><s style="left:0.38px;transform:scaleX(0.984)">0</s></p>
<p class="t" style="left:898.24px;top:1082px;color:#1a1420"><s style="left:0.38px;transform:scaleX(0.984)">0</s></p>
<p class="t" style="left:256.50px;top:1106px;color:#140a04"><s style="left:0.48px;transform:scaleX(0.896)">O</s><s style="left:12.51px;transform:scaleX(0.791)">R</s><s style="left:22.41px;transform:scaleX(0.839)">T</s><s style="left:31.39px;transform:scaleX(0.913)">A</s><s style="left:41.94px;transform:scaleX(0.820)">K</s><s style="left:51.56px;transform:scaleX(0.896)">Ö</s><s style="left:63.55px;transform:scaleX(0.768)">Y</s></p>
<p class="t" style="left:507.66px;top:1106px;color:#140a04"><s style="left:0.38px;transform:scaleX(0.984)">7</s><s style="left:9.70px;transform:scaleX(0.954)">.</s><s style="left:14.51px;transform:scaleX(0.984)">5</s><s style="left:24.02px;transform:scaleX(0.984)">3</s><s style="left:33.54px;transform:scaleX(0.984)">7</s></p>
<p class="t" style="left:675.24px;top:1106px;color:#3a1400"><s style="left:0.38px;transform:scaleX(0.984)">0</s></p>
<p class="t" style="left:788.24px;top:1106px;color:#1a2a0c"><s style="left:0.38px;transform:scaleX(0.984)">0</s></p>
<p class="t" style="left:898.24px;top:1106px;color:#1a1420"><s style="left:0.38px;transform:scaleX(0.984)">0</s></p>
<p class="t" style="left:256.50px;top:1130px;color:#140a04"><s style="left:0.48px;transform:scaleX(0.896)">O</s><s style="left:12.45px;transform:scaleX(0.724)">S</s><s style="left:21.14px;transform:scaleX(1.080)">M</s><s style="left:36.58px;transform:scaleX(0.913)">A</s><s style="left:47.23px;transform:scaleX(0.941)">N</s><s style="left:58.97px;transform:scaleX(0.777)">C</s><s style="left:68.52px;transform:scaleX(0.954)">I</s><s style="left:73.32px;transform:scaleX(0.820)">K</s></p>
<p class="t" style="left:502.90px;top:1130px;color:#140a04"><s style="left:0.38px;transform:scaleX(0.984)">4</s><s style="left:9.90px;transform:scaleX(0.984)">3</s><s style="left:19.22px;transform:scaleX(0.954)">.</s><s style="left:24.62px;transform:scaleX(0.984)">1</s><s style="left:33.54px;transform:scaleX(0.984)">8</s><s style="left:43.06px;transform:scaleX(0.984)">8</s></p>
<p class="t" style="left:675.24px;top:1130px;color:#3a1400"><s style="left:0.38px;transform:scaleX(0.984)">3</s></p>
<p class="t" style="left:788.24px;top:1130px;color:#1a2a0c"><s style="left:0.38px;transform:scaleX(0.984)">3</s></p>
<p class="t" style="left:898.24px;top:1130px;color:#1a1420"><s style="left:0.38px;transform:scaleX(0.984)">0</s></p>
<p class="t" style="left:256.50px;top:1155px;color:#140a04"><s style="left:0.34px;transform:scaleX(0.724)">S</s><s style="left:8.87px;transform:scaleX(0.935)">U</s><s style="left:20.62px;transform:scaleX(0.941)">N</s><s style="left:32.43px;transform:scaleX(0.854)">G</s><s style="left:43.99px;transform:scaleX(0.935)">U</s><s style="left:55.66px;transform:scaleX(0.791)">R</s><s style="left:65.51px;transform:scaleX(0.795)">L</s><s style="left:73.36px;transform:scaleX(0.935)">U</s></p>
<p class="t" style="left:502.90px;top:1155px;color:#140a04"><s style="left:0.38px;transform:scaleX(0.984)">4</s><s style="left:9.90px;transform:scaleX(0.984)">9</s><s style="left:19.22px;transform:scaleX(0.954)">.</s><s style="left:24.02px;transform:scaleX(0.984)">2</s><s style="left:34.14px;transform:scaleX(0.984)">1</s><s style="left:43.66px;transform:scaleX(0.984)">1</s></p>
<p class="t" style="left:675.24px;top:1155px;color:#3a1400"><s style="left:0.38px;transform:scaleX(0.984)">2</s></p>
<p class="t" style="left:788.24px;top:1155px;color:#1a2a0c"><s style="left:0.38px;transform:scaleX(0.984)">3</s></p>
<p class="t" style="left:898.24px;top:1155px;color:#1a1420"><s style="left:0.98px;transform:scaleX(0.984)">1</s></p>
<p class="t" style="left:256.50px;top:1179px;color:#140a04"><s style="left:0.47px;transform:scaleX(0.935)">U</s><s style="left:12.21px;transform:scaleX(0.854)">Ğ</s><s style="left:23.77px;transform:scaleX(0.935)">U</s><s style="left:35.44px;transform:scaleX(0.791)">R</s><s style="left:45.29px;transform:scaleX(0.795)">L</s><s style="left:53.14px;transform:scaleX(0.935)">U</s><s style="left:64.87px;transform:scaleX(0.896)">D</s><s style="left:76.09px;transform:scaleX(0.913)">A</s><s style="left:86.73px;transform:scaleX(0.854)">Ğ</s></p>
<p class="t" style="left:507.66px;top:1179px;color:#140a04"><s style="left:0.38px;transform:scaleX(0.984)">6</s><s style="left:9.70px;transform:scaleX(0.954)">.</s><s style="left:14.51px;transform:scaleX(0.984)">9</s><s style="left:24.02px;transform:scaleX(0.984)">9</s><s style="left:33.54px;transform:scaleX(0.984)">7</s></p>
<p class="t" style="left:675.24px;top:1179px;color:#3a1400"><s style="left:0.38px;transform:scaleX(0.984)">0</s></p>
<p class="t" style="left:788.24px;top:1179px;color:#1a2a0c"><s style="left:0.38px;transform:scaleX(0.984)">0</s></p>
<p class="t" style="left:898.24px;top:1179px;color:#1a1420"><s style="left:0.38px;transform:scaleX(0.984)">0</s></p>
<p class="b" style="left:55.02px;top:1019px;color:#111"><s style="left:0.69px;transform:scaleX(1.044)">1</s><s style="left:9.58px;transform:scaleX(1.044)">9</s></p>
<p class="b" style="left:140.69px;top:1019px;color:#111"><s style="left:0.10px;transform:scaleX(0.839)">Ç</s><s style="left:10.02px;transform:scaleX(0.995)">O</s><s style="left:22.64px;transform:scaleX(0.893)">R</s><s style="left:33.18px;transform:scaleX(1.036)">U</s><s style="left:45.44px;transform:scaleX(1.202)">M</s></p>
<p class="b" style="left:112.28px;top:1204px;color:#111"><s style="left:0.09px;transform:scaleX(0.928)">T</s><s style="left:9.38px;transform:scaleX(0.995)">O</s><s style="left:22.00px;transform:scaleX(0.914)">P</s><s style="left:31.93px;transform:scaleX(0.793)">L</s><s style="left:39.87px;transform:scaleX(0.961)">A</s><s style="left:51.25px;transform:scaleX(1.202)">M</s></p>
<p class="t" style="left:498.15px;top:1204px;color:#140a04"><s style="left:0.38px;transform:scaleX(0.984)">5</s><s style="left:9.90px;transform:scaleX(0.984)">2</s><s style="left:19.41px;transform:scaleX(0.984)">7</s><s style="left:28.73px;transform:scaleX(0.954)">.</s><s style="left:33.54px;transform:scaleX(0.984)">8</s><s style="left:43.06px;transform:scaleX(0.984)">6</s><s style="left:52.57px;transform:scaleX(0.984)">3</s></p>
<p class="t" style="left:670.48px;top:1204px;color:#140a04"><s style="left:0.38px;transform:scaleX(0.984)">2</s><s style="left:9.90px;transform:scaleX(0.984)">7</s></p>
<p class="t" style="left:783.48px;top:1204px;color:#140a04"><s style="left:0.38px;transform:scaleX(0.984)">3</s><s style="left:9.90px;transform:scaleX(0.984)">0</s></p>
<p class="t" style="left:898.24px;top:1204px;color:#140a04"><s style="left:0.38px;transform:scaleX(0.984)">3</s></p>
<p class="t" style="left:256.50px;top:1228px;color:#140a04"><s style="left:0.42px;transform:scaleX(0.913)">A</s><s style="left:10.99px;transform:scaleX(0.777)">C</s><s style="left:20.53px;transform:scaleX(0.954)">I</s><s style="left:25.34px;transform:scaleX(0.816)">P</s><s style="left:34.85px;transform:scaleX(0.913)">A</s><s style="left:45.37px;transform:scaleX(0.768)">Y</s><s style="left:54.35px;transform:scaleX(0.913)">A</s><s style="left:65.15px;transform:scaleX(1.080)">M</s></p>
<p class="t" style="left:502.90px;top:1228px;color:#140a04"><s style="left:0.38px;transform:scaleX(0.984)">5</s><s style="left:9.90px;transform:scaleX(0.984)">5</s><s style="left:19.22px;transform:scaleX(0.954)">.</s><s style="left:24.02px;transform:scaleX(0.984)">2</s><s style="left:33.54px;transform:scaleX(0.984)">7</s><s style="left:43.06px;transform:scaleX(0.984)">9</s></p>
<p class="t" style="left:675.24px;top:1228px;color:#3a1400"><s style="left:0.38px;transform:scaleX(0.984)">2</s></p>
<p class="t" style="left:788.24px;top:1228px;color:#1a2a0c"><s style="left:0.38px;transform:scaleX(0.984)">3</s></p>
<p class="t" style="left:898.24px;top:1228px;color:#1a1420"><s style="left:0.98px;transform:scaleX(0.984)">1</s></p>
<p class="t" style="left:256.50px;top:1252px;color:#140a04"><s style="left:0.40px;transform:scaleX(0.858)">B</s><s style="left:10.38px;transform:scaleX(0.913)">A</s><s style="left:20.95px;transform:scaleX(0.858)">B</s><s style="left:30.93px;transform:scaleX(0.913)">A</s><s style="left:41.55px;transform:scaleX(0.896)">D</s><s style="left:52.78px;transform:scaleX(0.913)">A</s><s style="left:63.41px;transform:scaleX(0.854)">Ğ</s></p>
<p class="t" style="left:507.66px;top:1252px;color:#140a04"><s style="left:0.38px;transform:scaleX(0.984)">6</s><s style="left:9.70px;transform:scaleX(0.954)">.</s><s style="left:14.51px;transform:scaleX(0.984)">4</s><s style="left:24.02px;transform:scaleX(0.984)">9</s><s style="left:33.54px;transform:scaleX(0.984)">8</s></p>
<p class="t" style="left:675.24px;top:1252px;color:#3a1400"><s style="left:0.38px;transform:scaleX(0.984)">0</s></p>
<p class="t" style="left:788.24px;top:1252px;color:#1a2a0c"><s style="left:0.38px;transform:scaleX(0.984)">0</s></p>
<p class="t" style="left:898.24px;top:1252px;color:#1a1420"><s style="left:0.38px;transform:scaleX(0.984)">0</s></p>
<p class="t" style="left:256.50px;top:1277px;color:#140a04"><s style="left:0.40px;transform:scaleX(0.858)">B</s><s style="left:10.38px;transform:scaleX(0.913)">A</s><s style="left:20.93px;transform:scaleX(0.820)">K</s><s style="left:30.37px;transform:scaleX(0.795)">L</s><s style="left:38.18px;transform:scaleX(0.913)">A</s><s style="left:48.82px;transform:scaleX(0.941)">N</s></p>
<p class="t" style="left:507.66px;top:1277px;color:#140a04"><s style="left:0.38px;transform:scaleX(0.984)">5</s><s style="left:9.70px;transform:scaleX(0.954)">.</s><s style="left:14.51px;transform:scaleX(0.984)">6</s><s style="left:24.02px;transform:scaleX(0.984)">3</s><s style="left:33.54px;transform:scaleX(0.984)">2</s></p>
<p class="t" style="left:675.24px;top:1277px;color:#3a1400"><s style="left:0.38px;transform:scaleX(0.984)">0</s></p>
<p class="t" style="left:788.24px;top:1277px;color:#1a2a0c"><s style="left:0.38px;transform:scaleX(0.984)">0</s></p>
<p class="t" style="left:898.24px;top:1277px;color:#1a1420"><s style="left:0.38px;transform:scaleX(0.984)">0</s></p>
<p class="t" style="left:256.50px;top:1301px;color:#140a04"><s style="left:0.40px;transform:scaleX(0.858)">B</s><s style="left:10.31px;transform:scaleX(0.770)">E</s><s style="left:19.27px;transform:scaleX(0.820)">K</s><s style="left:28.59px;transform:scaleX(0.954)">İ</s><s style="left:33.32px;transform:scaleX(0.795)">L</s><s style="left:41.01px;transform:scaleX(0.795)">L</s><s style="left:48.57px;transform:scaleX(0.954)">İ</s></p>
<p class="t" style="left:507.66px;top:1301px;color:#140a04"><s style="left:0.38px;transform:scaleX(0.984)">7</s><s style="left:9.70px;transform:scaleX(0.954)">.</s><s style="left:14.51px;transform:scaleX(0.984)">0</s><s style="left:24.02px;transform:scaleX(0.984)">4</s><s style="left:33.54px;transform:scaleX(0.984)">5</s></p>
<p class="t" style="left:675.24px;top:1301px;color:#3a1400"><s style="left:0.98px;transform:scaleX(0.984)">1</s></p>
<p class="t" style="left:788.24px;top:1301px;color:#1a2a0c"><s style="left:0.38px;transform:scaleX(0.984)">0</s></p>
<p class="t" style="left:898.24px;top:1301px;color:#1a1420"><s style="left:0.38px;transform:scaleX(0.984)">0</s></p>
<p class="t" style="left:256.50px;top:1326px;color:#140a04"><s style="left:0.40px;transform:scaleX(0.858)">B</s><s style="left:10.31px;transform:scaleX(0.770)">E</s><s style="left:19.24px;transform:scaleX(0.768)">Y</s><s style="left:28.22px;transform:scaleX(0.913)">A</s><s style="left:38.86px;transform:scaleX(0.854)">Ğ</s><s style="left:50.36px;transform:scaleX(0.913)">A</s><s style="left:60.93px;transform:scaleX(0.777)">Ç</s></p>
<p class="t" style="left:507.66px;top:1326px;color:#140a04"><s style="left:0.38px;transform:scaleX(0.984)">6</s><s style="left:9.70px;transform:scaleX(0.954)">.</s><s style="left:14.51px;transform:scaleX(0.984)">6</s><s style="left:24.62px;transform:scaleX(0.984)">1</s><s style="left:34.14px;transform:scaleX(0.984)">1</s></p>
<p class="t" style="left:675.24px;top:1326px;color:#3a1400"><s style="left:0.38px;transform:scaleX(0.984)">0</s></p>
<p class="t" style="left:788.24px;top:1326px;color:#1a2a0c"><s style="left:0.38px;transform:scaleX(0.984)">0</s></p>
<p class="t" style="left:898.24px;top:1326px;color:#1a1420"><s style="left:0.38px;transform:scaleX(0.984)">0</s></p>
<p class="t" style="left:256.50px;top:1350px;color:#140a04"><s style="left:0.40px;transform:scaleX(0.858)">B</s><s style="left:10.44px;transform:scaleX(0.896)">O</s><s style="left:22.41px;transform:scaleX(0.806)">Z</s><s style="left:31.01px;transform:scaleX(0.820)">K</s><s style="left:40.62px;transform:scaleX(0.935)">U</s><s style="left:52.30px;transform:scaleX(0.791)">R</s><s style="left:62.19px;transform:scaleX(0.839)">T</s></p>
<p class="t" style="left:502.90px;top:1350px;color:#140a04"><s style="left:0.98px;transform:scaleX(0.984)">1</s><s style="left:9.90px;transform:scaleX(0.984)">2</s><s style="left:19.22px;transform:scaleX(0.954)">.</s><s style="left:24.02px;transform:scaleX(0.984)">7</s><s style="left:34.14px;transform:scaleX(0.984)">1</s><s style="left:43.06px;transform:scaleX(0.984)">5</s></p>
<p class="t" style="left:675.24px;top:1350px;color:#3a1400"><s style="left:0.98px;transform:scaleX(0.984)">1</s></p>
<p class="t" style="left:788.24px;top:1350px;color:#1a2a0c"><s style="left:0.98px;transform:scaleX(0.984)">1</s></p>
<p class="t" style="left:898.24px;top:1350px;color:#1a1420"><s style="left:0.38px;transform:scaleX(0.984)">0</s></p>
<p class="t" style="left:256.50px;top:1374px;color:#140a04"><s style="left:0.40px;transform:scaleX(0.858)">B</s><s style="left:10.43px;transform:scaleX(0.935)">U</s><s style="left:22.01px;transform:scaleX(0.795)">L</s><s style="left:29.84px;transform:scaleX(0.896)">D</s><s style="left:41.07px;transform:scaleX(0.913)">A</s><s style="left:51.71px;transform:scaleX(0.941)">N</s></p>
<p class="t" style="left:502.90px;top:1374px;color:#140a04"><s style="left:0.38px;transform:scaleX(0.984)">2</s><s style="left:9.90px;transform:scaleX(0.984)">7</s><s style="left:19.22px;transform:scaleX(0.954)">.</s><s style="left:24.02px;transform:scaleX(0.984)">3</s><s style="left:33.54px;transform:scaleX(0.984)">3</s><s style="left:43.06px;transform:scaleX(0.984)">5</s></p>
<p class="t" style="left:675.24px;top:1374px;color:#3a1400"><s style="left:0.98px;transform:scaleX(0.984)">1</s></p>
<p class="t" style="left:788.24px;top:1374px;color:#1a2a0c"><s style="left:0.38px;transform:scaleX(0.984)">2</s></p>
<p class="t" style="left:898.24px;top:1374px;color:#1a1420"><s style="left:0.98px;transform:scaleX(0.984)">1</s></p>
<p class="b" style="left:45.15px;top:57px;color:#111"><s style="left:0.09px;transform:scaleX(0.812)">S</s><s style="left:8.90px;transform:scaleX(1.101)">I</s><s style="left:13.94px;transform:scaleX(0.893)">R</s><s style="left:24.48px;transform:scaleX(0.961)">A</s></p>
<p class="b" style="left:148.88px;top:57px;color:#111"><s style="left:0.05px;transform:scaleX(1.101)">İ</s><s style="left:5.07px;transform:scaleX(0.793)">L</s><s style="left:17.24px;transform:scaleX(0.961)">A</s><s style="left:28.58px;transform:scaleX(0.999)">D</s><s style="left:40.29px;transform:scaleX(1.101)">I</s></p>
<p class="b" style="left:312.76px;top:57px;color:#111"><s style="left:0.05px;transform:scaleX(1.101)">İ</s><s style="left:5.07px;transform:scaleX(0.793)">L</s><s style="left:13.00px;transform:scaleX(0.839)">Ç</s><s style="left:22.89px;transform:scaleX(0.838)">E</s><s style="left:32.00px;transform:scaleX(0.793)">L</s><s style="left:39.92px;transform:scaleX(0.838)">E</s><s style="left:49.06px;transform:scaleX(0.893)">R</s><s style="left:59.53px;transform:scaleX(1.101)">İ</s></p>
<p class="b" style="left:501.91px;top:57px;color:#111"><s style="left:0.12px;transform:scaleX(1.045)">N</s><s style="left:12.45px;transform:scaleX(1.036)">Ü</s><s style="left:24.62px;transform:scaleX(0.861)">F</s><s style="left:33.24px;transform:scaleX(1.036)">U</s><s style="left:45.42px;transform:scaleX(0.812)">S</s></p>
<p class="b" style="left:646.06px;top:57px;color:#111"><s style="left:0.16px;transform:scaleX(1.202)">M</s><s style="left:16.44px;transform:scaleX(0.838)">E</s><s style="left:25.58px;transform:scaleX(1.015)">V</s><s style="left:36.62px;transform:scaleX(0.839)">C</s><s style="left:46.54px;transform:scaleX(1.036)">U</s><s style="left:58.72px;transform:scaleX(0.928)">T</s></p>
<p class="b" style="left:745.13px;top:57px;color:#111"><s style="left:0.10px;transform:scaleX(0.868)">K</s><s style="left:10.36px;transform:scaleX(0.995)">O</s><s style="left:22.99px;transform:scaleX(1.045)">N</s><s style="left:35.29px;transform:scaleX(0.928)">T</s><s style="left:44.54px;transform:scaleX(0.838)">E</s><s style="left:53.70px;transform:scaleX(1.045)">N</s><s style="left:65.96px;transform:scaleX(0.682)">J</s><s style="left:72.20px;transform:scaleX(0.961)">A</s><s style="left:83.54px;transform:scaleX(1.045)">N</s></p>
<p class="b" style="left:860.81px;top:57px;color:#111"><s style="left:0.11px;transform:scaleX(0.961)">A</s><s style="left:11.43px;transform:scaleX(0.839)">Ç</s><s style="left:21.27px;transform:scaleX(1.101)">I</s><s style="left:26.30px;transform:scaleX(0.793)">L</s><s style="left:34.24px;transform:scaleX(0.961)">A</s><s style="left:45.56px;transform:scaleX(0.890)">B</s><s style="left:56.00px;transform:scaleX(1.101)">İ</s><s style="left:61.02px;transform:scaleX(0.793)">L</s><s style="left:68.90px;transform:scaleX(1.101)">İ</s><s style="left:73.95px;transform:scaleX(0.893)">R</s></p>
</div></body></html>
